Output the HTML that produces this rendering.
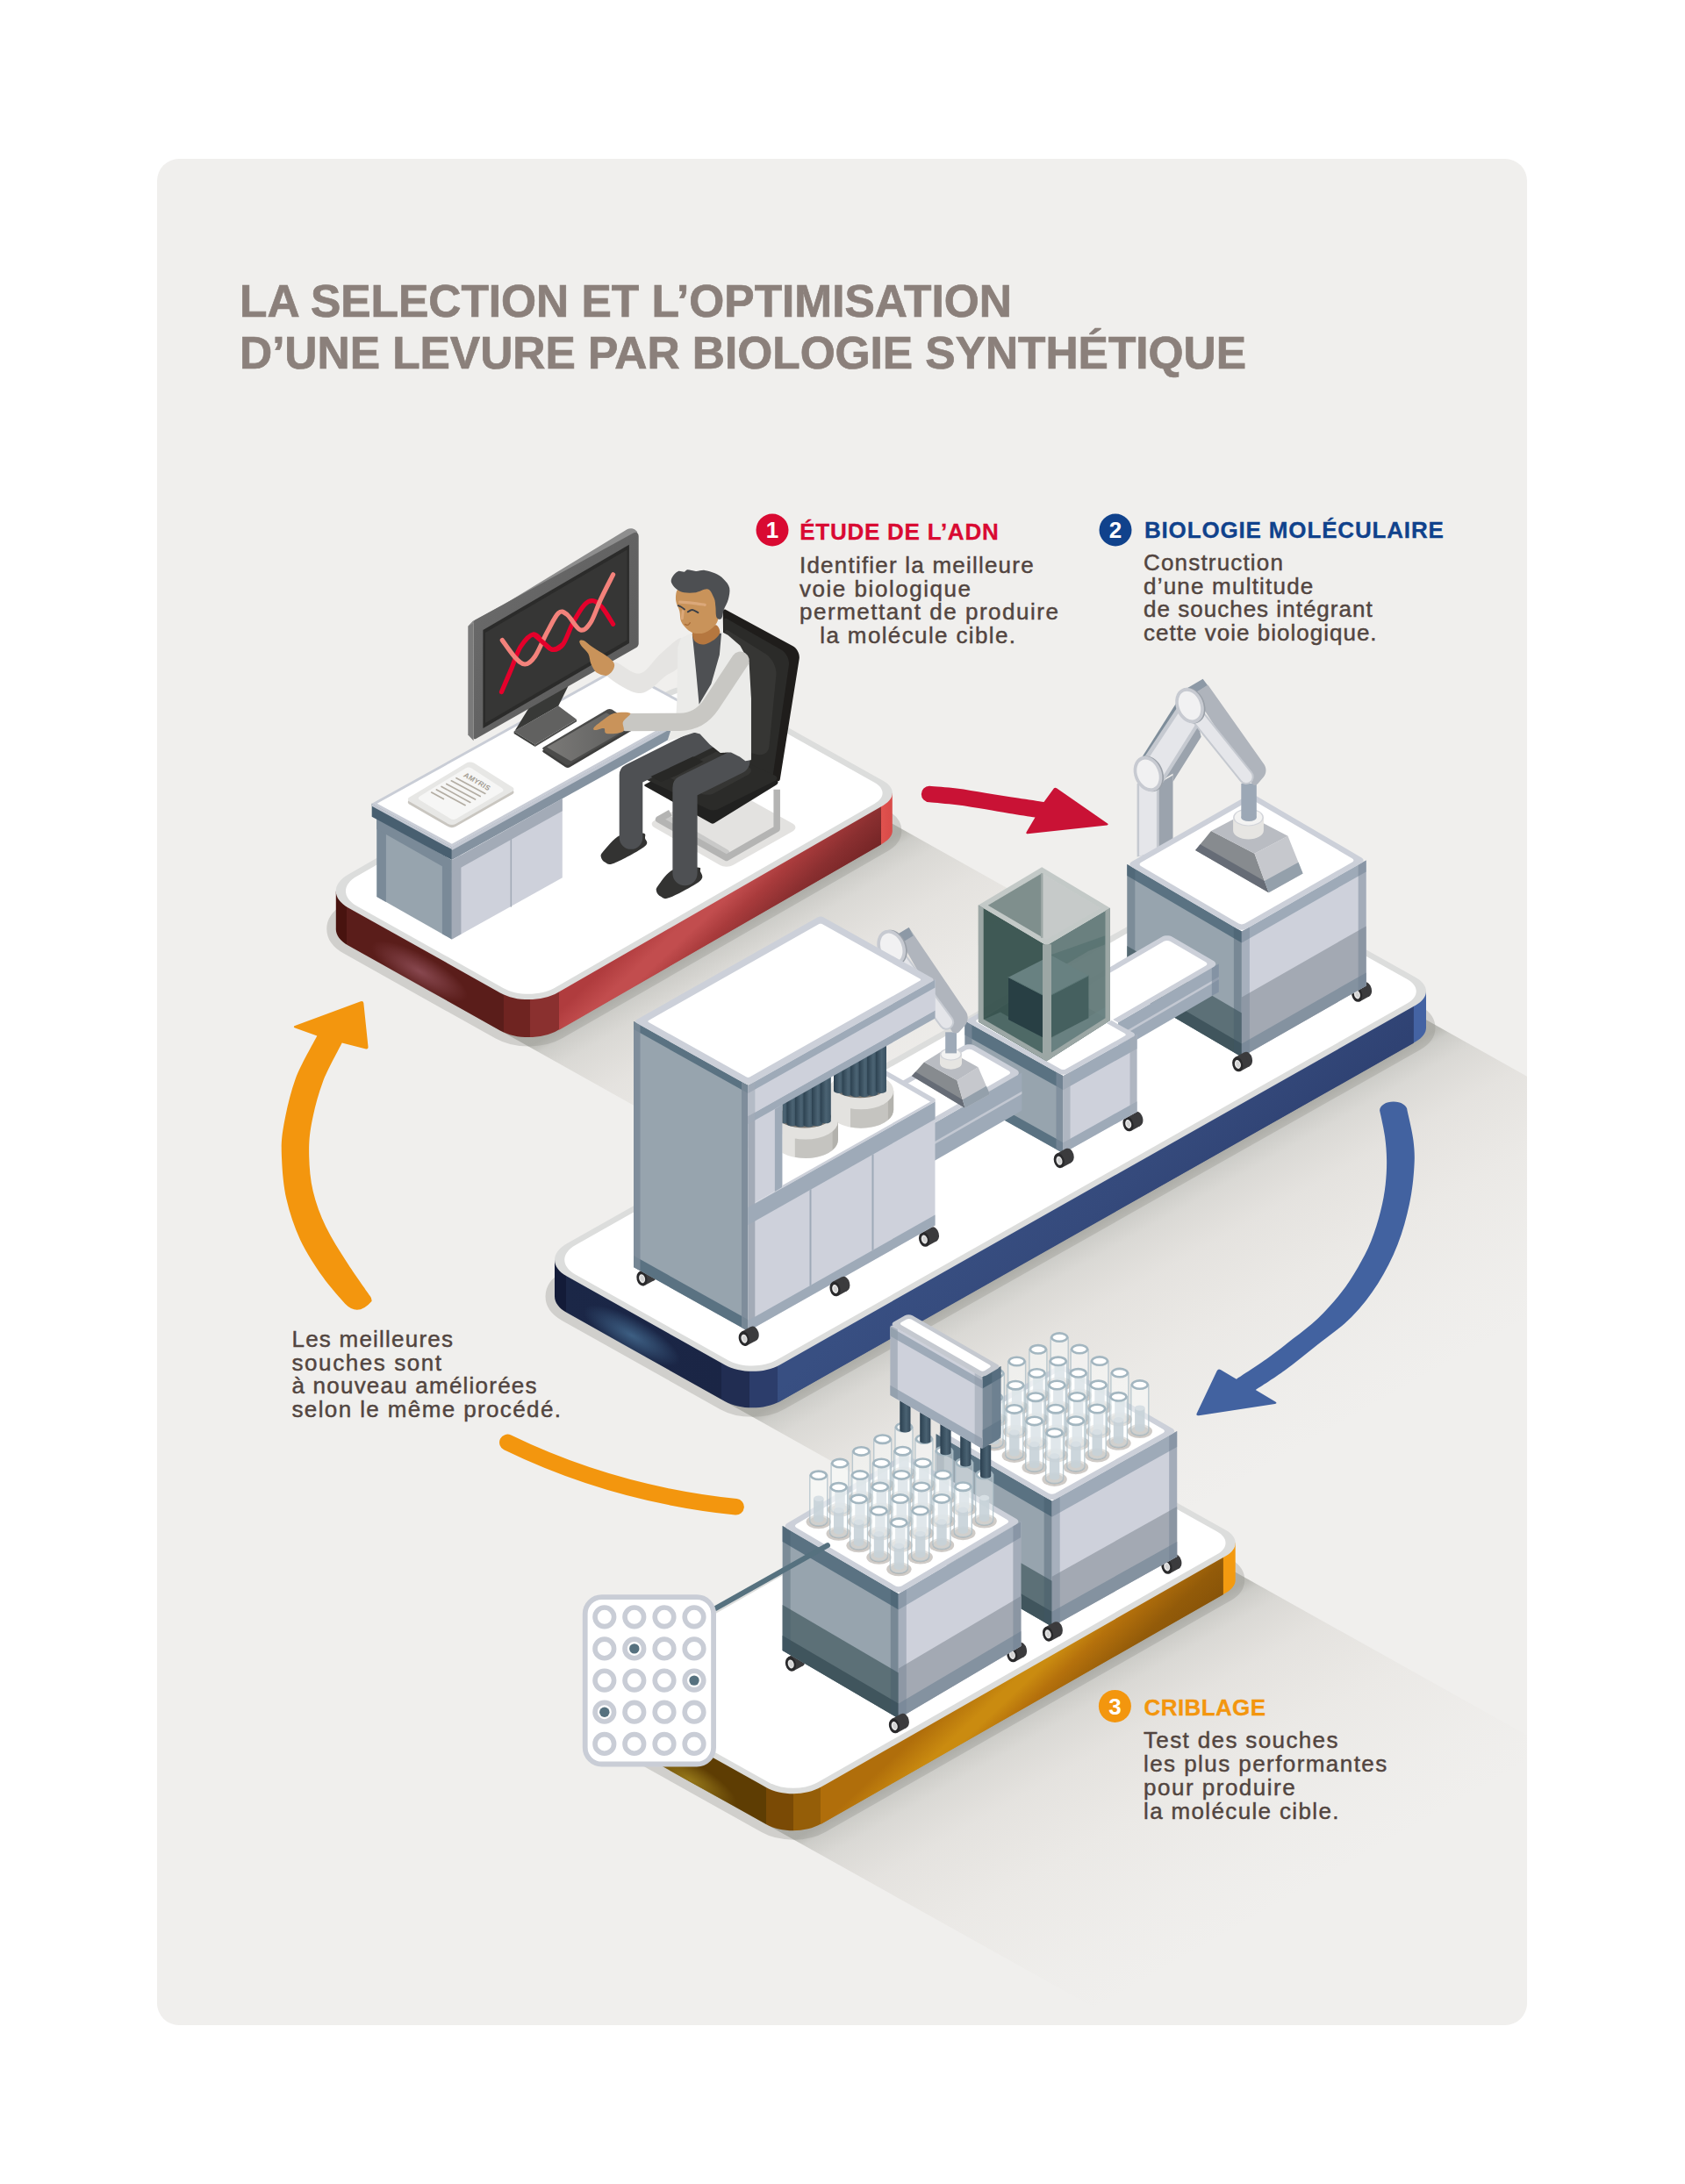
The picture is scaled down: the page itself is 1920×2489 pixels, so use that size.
<!DOCTYPE html><html lang="fr"><head><meta charset="utf-8"><title>La selection et l'optimisation d'une levure</title><style>html,body{margin:0;padding:0;background:#fff}svg{display:block}text{font-family:"Liberation Sans",sans-serif}</style></head><body><svg width="1920" height="2489" viewBox="0 0 1920 2489"><defs><linearGradient id="g_p1" gradientUnits="userSpaceOnUse" x1="382.8" y1="0" x2="1016.8" y2="0"><stop offset="0%" stop-color="#48130f"/><stop offset="1.9%" stop-color="#48130f"/><stop offset="1.9%" stop-color="#5a1d1a"/><stop offset="30.2%" stop-color="#5a1d1a"/><stop offset="30.2%" stop-color="#6f2421"/><stop offset="34.9%" stop-color="#6f2421"/><stop offset="34.9%" stop-color="#8a302f"/><stop offset="40.1%" stop-color="#8a302f"/><stop offset="40.1%" stop-color="#b23f3f"/><stop offset="61.1%" stop-color="#c24d4e"/><stop offset="81.6%" stop-color="#a83b3c"/><stop offset="97.8%" stop-color="#9a3435"/><stop offset="98%" stop-color="#e0524e"/><stop offset="100%" stop-color="#d84a48"/></linearGradient><radialGradient id="hl_p1" gradientUnits="userSpaceOnUse" cx="0" cy="0" r="1" gradientTransform="translate(478,1107) rotate(29.4) scale(62,19)"><stop offset="0" stop-color="#8a4a52" stop-opacity="0.95"/><stop offset="0.5" stop-color="#8a4a52" stop-opacity="0.5"/><stop offset="1" stop-color="#8a4a52" stop-opacity="0"/></radialGradient><linearGradient id="ov_p1" gradientUnits="userSpaceOnUse" x1="874.7" y1="928.2" x2="952.9" y2="1011.2"><stop offset="0.000" stop-color="#b03c3e"/><stop offset="0.219" stop-color="#c24d4e"/><stop offset="0.325" stop-color="#c24d4e"/><stop offset="0.509" stop-color="#a93b3c"/><stop offset="0.746" stop-color="#8a2f30"/><stop offset="1.000" stop-color="#742526"/></linearGradient><linearGradient id="g_p2" gradientUnits="userSpaceOnUse" x1="632" y1="0" x2="1625" y2="0"><stop offset="-0%" stop-color="#131b38"/><stop offset="1.3%" stop-color="#131b38"/><stop offset="1.3%" stop-color="#1b2747"/><stop offset="19.1%" stop-color="#1a2545"/><stop offset="19.1%" stop-color="#212d52"/><stop offset="22.4%" stop-color="#212d52"/><stop offset="22.4%" stop-color="#2c3d6b"/><stop offset="25.6%" stop-color="#2c3d6b"/><stop offset="25.6%" stop-color="#374e80"/><stop offset="67.3%" stop-color="#374d80"/><stop offset="98.5%" stop-color="#33477a"/><stop offset="98.6%" stop-color="#4463a3"/><stop offset="100%" stop-color="#4463a3"/></linearGradient><radialGradient id="hl_p2" gradientUnits="userSpaceOnUse" cx="0" cy="0" r="1" gradientTransform="translate(720,1522) rotate(29.4) scale(62,19)"><stop offset="0" stop-color="#3f6286" stop-opacity="0.95"/><stop offset="0.5" stop-color="#3f6286" stop-opacity="0.5"/><stop offset="1" stop-color="#3f6286" stop-opacity="0"/></radialGradient><linearGradient id="ov_p2" gradientUnits="userSpaceOnUse" x1="1166.2" y1="1237.6" x2="1344.6" y2="1426.9"><stop offset="0.000" stop-color="#384f82"/><stop offset="0.231" stop-color="#384f82"/><stop offset="0.615" stop-color="#354a7c"/><stop offset="1.000" stop-color="#2f4273"/></linearGradient><linearGradient id="g_p3" gradientUnits="userSpaceOnUse" x1="679.2" y1="0" x2="1407.7" y2="0"><stop offset="0.2%" stop-color="#6a4a06"/><stop offset="11.1%" stop-color="#5e3d03"/><stop offset="26.6%" stop-color="#5e3d03"/><stop offset="26.6%" stop-color="#7a4a05"/><stop offset="30.9%" stop-color="#7a4a05"/><stop offset="30.9%" stop-color="#955e08"/><stop offset="35.1%" stop-color="#955e08"/><stop offset="35.1%" stop-color="#b06e0b"/><stop offset="57.8%" stop-color="#c98a0f"/><stop offset="78.3%" stop-color="#b8730c"/><stop offset="98%" stop-color="#9a6009"/><stop offset="98.1%" stop-color="#f39a10"/><stop offset="100%" stop-color="#f39a10"/></linearGradient><radialGradient id="hl_p3" gradientUnits="userSpaceOnUse" cx="0" cy="0" r="1" gradientTransform="translate(786,2028) rotate(29.4) scale(60,19)"><stop offset="0" stop-color="#97791a" stop-opacity="0.95"/><stop offset="0.5" stop-color="#97791a" stop-opacity="0.5"/><stop offset="1" stop-color="#97791a" stop-opacity="0"/></radialGradient><linearGradient id="ov_p3" gradientUnits="userSpaceOnUse" x1="1478.3" y1="1568.8" x2="1564.1" y2="1659.8"><stop offset="0.000" stop-color="#b06e0b"/><stop offset="0.248" stop-color="#ca8b10"/><stop offset="0.328" stop-color="#ca8b10"/><stop offset="0.488" stop-color="#b5710c"/><stop offset="0.760" stop-color="#935b09"/><stop offset="1.000" stop-color="#875308"/></linearGradient><clipPath id="panelclip"><rect x="179" y="181" width="1561" height="2127" rx="25"/></clipPath><linearGradient id="sh0" gradientUnits="userSpaceOnUse" x1="603" y1="1193" x2="774.4" y2="1490.8"><stop offset="0" stop-color="#8f9088" stop-opacity="0.55"/><stop offset="0.032" stop-color="#8f9088" stop-opacity="0.36"/><stop offset="0.1" stop-color="#908e84" stop-opacity="0.23"/><stop offset="0.25" stop-color="#988f82" stop-opacity="0.13"/><stop offset="0.5" stop-color="#a39684" stop-opacity="0.065"/><stop offset="0.8" stop-color="#a39684" stop-opacity="0.02"/><stop offset="1" stop-color="#a39684" stop-opacity="0"/></linearGradient><linearGradient id="sh1" gradientUnits="userSpaceOnUse" x1="857.3" y1="1614.6" x2="1025.7" y2="1912.4"><stop offset="0" stop-color="#8f9088" stop-opacity="0.55"/><stop offset="0.032" stop-color="#8f9088" stop-opacity="0.36"/><stop offset="0.1" stop-color="#908e84" stop-opacity="0.23"/><stop offset="0.25" stop-color="#988f82" stop-opacity="0.13"/><stop offset="0.5" stop-color="#a39684" stop-opacity="0.065"/><stop offset="0.8" stop-color="#a39684" stop-opacity="0.02"/><stop offset="1" stop-color="#a39684" stop-opacity="0"/></linearGradient><linearGradient id="sh2" gradientUnits="userSpaceOnUse" x1="904.3" y1="2096.5" x2="1074.3" y2="2394.1"><stop offset="0" stop-color="#8f9088" stop-opacity="0.55"/><stop offset="0.032" stop-color="#8f9088" stop-opacity="0.36"/><stop offset="0.1" stop-color="#908e84" stop-opacity="0.23"/><stop offset="0.25" stop-color="#988f82" stop-opacity="0.13"/><stop offset="0.5" stop-color="#a39684" stop-opacity="0.065"/><stop offset="0.8" stop-color="#a39684" stop-opacity="0.02"/><stop offset="1" stop-color="#a39684" stop-opacity="0"/></linearGradient><linearGradient id="monb" x1="0" y1="0" x2="1" y2="1"><stop offset="0" stop-color="#6d6d6d"/><stop offset="1" stop-color="#585858"/></linearGradient><linearGradient id="kbg" x1="0" y1="0" x2="1" y2="0"><stop offset="0" stop-color="#7a7977"/><stop offset="1" stop-color="#5e5e5d"/></linearGradient><clipPath id="mopen2"><path d="M891.4,1353.1 L1065.5,1254.5 L1065.5,1158.5 L891.4,1257.1Z"/></clipPath><linearGradient id="tube" x1="0" y1="0" x2="1" y2="0"><stop offset="0" stop-color="#2c4150"/><stop offset="0.55" stop-color="#4b6373"/><stop offset="1" stop-color="#3a5161"/></linearGradient><clipPath id="mopen"><path d="M891.4,1383.1 L1065.5,1284.5 L1065.5,1158.5 L891.4,1257.1Z"/></clipPath><linearGradient id="pin" x1="0" y1="0" x2="1" y2="0"><stop offset="0" stop-color="#2b4050"/><stop offset="0.6" stop-color="#4a6272"/><stop offset="1" stop-color="#34495a"/></linearGradient></defs><rect width="1920" height="2489" fill="#fff"/>
<rect x="179" y="181" width="1561" height="2127" rx="25" fill="#f0efed"/>
<path d="M396.7,1077.4C378.2,1067 378.1,1050.5 396.5,1039.8L757.8,832C776.7,821.1 806.6,820.9 825.6,831.6L1006.6,933C1020.3,940.7 1020.3,952.8 1006.7,960.7L635.9,1174C617.5,1184.7 588.4,1184.8 569.9,1174.4Z" fill="#d0cfcc" stroke="#d0cfcc" stroke-width="21" stroke-linejoin="round"/>
<path d="M645.9,1496C627.4,1485.6 627.4,1469.2 645.9,1458.7L1365.4,1051.8C1382.9,1041.9 1410.5,1041.9 1428.1,1051.7L1613.3,1155.6C1628.9,1164.4 1628.9,1178.2 1613.3,1187.1L888.6,1596.9C871.1,1606.8 843.5,1606.8 825.9,1597Z" fill="#d0cfcc" stroke="#d0cfcc" stroke-width="21" stroke-linejoin="round"/>
<path d="M691.7,1977.6C675.1,1968.3 675,1953.6 691.5,1944.1L1151.1,1681.7C1167.6,1672.2 1193.7,1672.1 1210.3,1681.4L1396.7,1785.7C1411.4,1793.9 1411.4,1806.8 1396.8,1815.2L935.6,2078.6C918.1,2088.6 890.5,2088.8 872.9,2078.9Z" fill="#d0cfcc" stroke="#d0cfcc" stroke-width="21" stroke-linejoin="round"/>
<g clip-path="url(#panelclip)">
<path d="M911.3,879.6 L1379.9,1142.3 L951.9,1388.6 L483.3,1125.9Z" fill="url(#sh0)"/>
<path d="M1519,1102.7 L1990,1367 L1206.1,1810.3 L735,1546Z" fill="url(#sh1)"/>
<path d="M1301.8,1732.5 L1772,1995.5 L1253.4,2291.7 L783.1,2028.8Z" fill="url(#sh2)"/>
</g>
<g id="pf_p1"><path d="M396.7,1077.4C378.2,1067 378.1,1050.5 396.5,1039.8L757.8,832C776.7,821.1 806.6,820.9 825.6,831.6L1006.6,933C1020.3,940.7 1020.3,952.8 1006.7,960.7L635.9,1174C617.5,1184.7 588.4,1184.8 569.9,1174.4Z M382.8,1015.8 L1016.8,903.7 L1016.8,946.7 L382.8,1058.8Z" fill="url(#g_p1)"/><path d="M396.7,1030.4 L569.9,1127.4 L569.9,1174.7 L396.7,1077.7Z" fill="url(#hl_p1)"/><path d="M637.1,1124.4 L1004,913.2 L1004,962.5 L637.1,1173.7Z" fill="url(#ov_p1)"/><path d="M396.7,1034.4C378.2,1024 378.1,1007.5 396.5,996.8L757.8,789C776.7,778.1 806.6,777.9 825.6,788.6L1006.6,890C1020.3,897.7 1020.3,909.8 1006.7,917.7L635.9,1131C617.5,1141.7 588.4,1141.8 569.9,1131.4Z" fill="#dcdddc"/><path d="M406.5,1032.5C389.9,1023.1 389.8,1008.3 406.4,998.8L761.2,794.5C778.2,784.7 805.1,784.5 822.2,794.1L996.8,891.9C1008.5,898.5 1008.6,909 996.9,915.7L632.6,1125.5C616,1135 589.9,1135.2 573.3,1125.9Z" fill="#fff"/></g>
<path d="M745.9,943.2C741.5,940.7 741.7,937 746.2,934.8L818.1,899.5C822.6,897.3 829.6,897.5 834,899.9L903.1,938.5C907.5,941 907.5,944.9 903.1,947.4L835.6,985.8C831.3,988.3 824.4,988.3 820,985.8Z" fill="#e3e2e0"/>
<path d="M760.5,932.1 L827.8,971.2" fill="none" stroke="#c9c9c8" stroke-width="6.5" stroke-linecap="round" stroke-linejoin="round"/>
<path d="M885.2,899.7 L885.2,944.6 L827.8,977.5 L750.6,933.8 L763.9,926.3" fill="none" stroke="#b4b4b3" stroke-width="7.5" stroke-linejoin="round" stroke-linecap="butt"/>
<path d="M823.7,697.1C823.7,694.9 825.2,694 827.2,695L903.4,736.2C908.4,738.9 911.6,745.3 910.7,750.9L888.8,888.3C888.5,889.9 887.1,890.7 885.6,890L828.9,863.9C827.4,863.2 826.1,861.3 826.1,859.6Z" fill="#1f1d1b"/>
<path d="M824.5,707.1C824.5,704.9 826,704 828,705.1L890.2,740.4C896,743.7 899.9,751.5 898.9,758.2L880.9,882.3C880.5,885.1 878.2,886.3 875.6,885.2L828.9,863.9C827.4,863.2 826.2,861.3 826.1,859.6Z" fill="#2b2b29"/>
<path d="M826.2,720.4C826.2,718.2 827.7,717.3 829.6,718.5L872.4,745.3C880,750.1 885.3,760.8 884.4,769.7L876.4,850.7C875.7,857.4 870.1,861.4 863.5,859.9L829.1,851.7C827.5,851.3 826.2,849.7 826.2,848Z" fill="#363634"/>
<path d="M734.9,896C733.9,895.5 733.9,894.6 734.9,894.1L807.8,855.8C808.8,855.2 810.4,855.2 811.4,855.7L883.8,888.2C887.3,889.8 887.5,892.7 884.2,894.7L813.7,938.2C812.8,938.8 811.3,938.8 810.3,938.3Z" fill="#212120"/>
<path d="M737.4,888.9C736.4,888.4 736.4,887.7 737.4,887.2L807.8,850.8C808.8,850.3 810.4,850.2 811.4,850.7L882.4,883.4C886.4,885.3 886.5,888.3 882.5,890.3L818.2,922.3C815.2,923.8 810.5,923.8 807.5,922.4Z" fill="#2b2b29"/>
<path d="M761.5,885.6C760.5,885.1 760.5,884.4 761.5,883.9L814.4,857.4C815.4,856.9 817,856.9 818,857.4L852.1,873.8C857.1,876.2 857.2,880.2 852.3,882.9L813.3,904.2C809.3,906.3 803.1,906.4 799.1,904.4Z" fill="#353533"/>
<path d="M429.4,1022 L514.9,1070.5 L514.9,980.5 L429.4,932Z" fill="#97a4ae" />
<path d="M429.4,1022 L439.9,1028 L439.9,938 L429.4,932Z" fill="#7a8a98" />
<path d="M503.9,1064.3 L514.9,1070.5 L514.9,980.5 L503.9,974.3Z" fill="#7a8a98" />
<path d="M429.4,932 L514.9,980.5 L514.9,993.5 L429.4,945Z" fill="#7a8a98" />
<path d="M514.9,1070.5 L640.8,1000.3 L640.8,910.3 L514.9,980.5Z" fill="#ced1db" />
<path d="M514.9,1070.5 L525.4,1064.6 L525.4,974.6 L514.9,980.5Z" fill="#a3abb7" />
<path d="M514.9,980.5 L640.8,910.3 L640.8,924.3 L514.9,994.5Z" fill="#a3abb7" />
<path d="M582.3,1032.9 L582.3,952.9" fill="none" stroke="#a3abb7" stroke-width="1.6" stroke-linecap="round" stroke-linejoin="round"/>
<path d="M423.7,915.8 L514.9,965.1 L514.9,980.1 L423.7,930.8Z" fill="#485f70" />
<path d="M514.9,965.1 L795.8,809.2 L795.8,824.2 L514.9,980.1Z" fill="#8492a0" />
<path d="M514.9,965.1 L795.8,809.2 L795.8,813.2 L514.9,969.1Z" fill="#c3c8d2" />
<path d="M423.7,915.8 L514.9,965.1 L514.9,968.1 L423.7,918.8Z" fill="#c3c8d2" />
<path d="M423.7,915.8 L704.6,759.9 L795.8,809.2 L514.9,965.1Z" fill="#c9cdd6" />
<path d="M429.7,915.8 L704.6,763.3 L789.8,809.2 L514.9,961.7Z" fill="#fff" />
<path d="M466.6,916.7C464.2,915.3 464.2,913.1 466.6,911.6L531.5,872.8C533.9,871.3 537.7,871.4 540,872.8L583.8,900.2C586.1,901.6 586.1,903.9 583.7,905.3L519.2,942.1C516.8,943.5 513,943.5 510.6,942.1Z" fill="#c9c6c0"/>
<path d="M466.6,913.5C464.2,912.1 464.2,909.9 466.6,908.4L531.5,869.6C533.9,868.1 537.7,868.2 540,869.6L583.8,897C586.1,898.4 586.1,900.7 583.7,902.1L519.2,938.9C516.8,940.3 513,940.3 510.6,938.9Z" fill="#e7e7e5"/>
<path d="M478.3,911.7C476.4,910.6 476.4,908.7 478.3,907.5L530.6,875.4C532.5,874.2 535.5,874.3 537.3,875.5L572.1,898.3C574,899.6 573.9,901.4 572,902.5L520.1,933C518.2,934.2 515.1,934.2 513.2,933Z" fill="#f6f6f5"/>
<path d="M520,886.7 L552.9,904.4" fill="none" stroke="#b3ada3" stroke-width="1.7" stroke-linecap="round" stroke-linejoin="round"/>
<path d="M514.3,889.8 L547.2,907.6" fill="none" stroke="#b3ada3" stroke-width="1.7" stroke-linecap="round" stroke-linejoin="round"/>
<path d="M508.8,893.4 L541.5,911" fill="none" stroke="#b3ada3" stroke-width="1.7" stroke-linecap="round" stroke-linejoin="round"/>
<path d="M503.1,896.4 L535.8,914.4" fill="none" stroke="#b3ada3" stroke-width="1.7" stroke-linecap="round" stroke-linejoin="round"/>
<path d="M497.4,900 L530.1,917.7" fill="none" stroke="#b3ada3" stroke-width="1.7" stroke-linecap="round" stroke-linejoin="round"/>
<path d="M491.7,903.1 L505.4,910.6" fill="none" stroke="#b3ada3" stroke-width="1.7" stroke-linecap="round" stroke-linejoin="round"/>
<text transform="translate(527.6,884.7) matrix(0.87,0.5,-0.6,0.8,0,0)" font-size="8.2" font-weight="bold" fill="#a39d93" letter-spacing="0.2">AMYRIS</text>
<path d="M585.6,833.4 L609.7,848.4 L657.1,820.1 L636.3,804.4Z" fill="#616160" />
<path d="M585.6,833.4 L609.7,848.4 L609.7,850.9 L585.6,835.9Z" fill="#3f403e" />
<path d="M609.7,848.4 L657.1,820.1 L657.1,822.3 L609.7,850.9Z" fill="#4d4d4c" />
<path d="M603.1,806 L647.9,781.1 L636.3,804.4 L586.5,832.9Z" fill="#383937" />
<path d="M533.3,713.8 L539.6,707.1 L539.6,844.2 L533.3,837.6Z" fill="#7a7a7a" />
<path d="M534.7,712.4C533.9,713.2 534.1,713.3 535,712.8L714.6,603.3C717.4,601.6 721.7,601.9 724.2,604.2L725.4,605.2C726.7,606.3 726.5,607.8 725.1,608.6L540.5,707C540,707.3 539.3,707.8 538.9,708.2Z" fill="#8e8e8e"/>
<path d="M539.6,709.5C539.6,708.4 540.4,707.1 541.4,706.5L721.6,607.6C725,605.7 727.7,607.3 727.7,611.2L727.7,733.5C727.7,735.2 726.6,737.2 725.1,738L542.2,842C540.7,842.8 539.6,842.2 539.6,840.5Z" fill="url(#monb)"/>
<path d="M550.4,718 L716.9,620.7 L716.9,732.9 L550.4,830.1Z" fill="#2b2b2a" />
<path d="M553,721 L714.5,626.5 L714.5,729.5 L553,824Z" fill="#363635" />
<path d="M571.5,788.6 C573.5,784 579.5,769.7 583.1,761.2 C586.7,752.6 589,743.4 593.1,737.1 C597.3,730.7 603.6,723.6 608.1,722.9 C612.5,722.2 616.1,730 619.7,732.9 C623.3,735.8 626.1,740.1 629.7,740.4 C633.3,740.7 637.4,739.7 641.3,734.6 C645.2,729.4 648.8,717.3 652.9,709.6 C657.1,702 662.4,693 666.2,688.9 C670.1,684.7 672.9,684.2 676.2,684.7 C679.5,685.3 682.4,687.8 686.2,692.2 C689.9,696.6 696.6,708.1 698.6,711.3" fill="none" stroke="#e4002b" stroke-width="5.2" stroke-linecap="round" stroke-linejoin="round"/>
<path d="M572.3,729.6 C574.7,732.8 582.2,744.1 586.5,748.7 C590.8,753.3 594.2,757.1 598.1,757 C602,756.9 605.6,753.8 609.7,747.9 C613.9,741.9 618.6,729.4 623,721.3 C627.5,713.1 632.4,702.3 636.3,698.8 C640.2,695.4 642.1,697.3 646.3,700.5 C650.4,703.7 656.8,716.4 661.2,717.9 C665.7,719.5 669,715.5 672.9,709.6 C676.8,703.8 680.2,692.2 684.5,683.1 C688.8,673.9 696.3,659.5 698.6,654.8" fill="none" stroke="#f3827b" stroke-width="5.2" stroke-linecap="round" stroke-linejoin="round"/>
<path d="M608.1,722.9 C610,724.6 616.1,730 619.7,732.9 C623.3,735.8 626.1,740.1 629.7,740.4 C633.3,740.7 639.4,735.5 641.3,734.6" fill="none" stroke="#e4002b" stroke-width="5.2" stroke-linecap="butt"/>
<path d="M619.2,857.6C617.8,856.7 617.8,855.3 619.3,854.5L692.1,811.5C693.6,810.7 695.8,810.7 697.2,811.6L722.3,828.2C723.7,829.1 723.7,830.5 722.2,831.3L649.4,874.3C647.9,875.1 645.7,875.1 644.3,874.2Z" fill="#3e3e3d"/>
<path d="M619.2,854.6C617.8,853.7 617.8,852.3 619.3,851.5L692.1,808.5C693.6,807.7 695.8,807.7 697.2,808.6L722.3,825.2C723.7,826.1 723.7,827.5 722.2,828.3L649.4,871.3C647.9,872.1 645.7,872.1 644.3,871.2Z" fill="#4b4b4a"/>
<path d="M623.2,851.4 L690.9,812.3 L718.3,828.4 L650.6,867.5Z" fill="url(#kbg)" />
<path d="M706.5,952C699,955.5 691,966.2 687.4,970.3C683.8,974.5 684.6,974.9 684.9,977C685.3,979 687.1,981.6 689.6,982.8C692.1,983.9 692.4,986.8 699.9,983.8C707.4,980.8 728.6,969.6 734.4,964.8C740.3,960.1 735.5,957.9 735.1,955.4C734.7,952.8 737,950.1 732.3,949.6C727.5,949 714,948.6 706.5,952Z" fill="#333332" />
<path d="M809.6,838.2 L719,883.4 L719,954.5" fill="none" stroke="#4e5053" stroke-width="26.6" stroke-linejoin="round" stroke-linecap="round"/>
<path d="M767.2,991.1C759.7,994.5 753.2,1004.9 750.1,1009C746.9,1013.2 747.6,1013.9 748.1,1016C748.6,1018.2 750.5,1020.7 753.1,1021.8C755.6,1023 755.9,1025.8 763.4,1022.8C770.8,1019.9 791.8,1009.1 797.6,1004.1C803.3,999 798.4,995.3 797.9,992.8C797.5,990.2 800.1,988.9 794.9,988.6C789.8,988.3 774.7,987.7 767.2,991.1Z" fill="#333332" />
<path d="M840.3,867.8 L780.5,897.5 L780.5,995.2" fill="none" stroke="#4e5053" stroke-width="28.2" stroke-linejoin="round" stroke-linecap="round"/>
<path d="M789.6,862.3 L801.6,868.1 L770.5,883.9 L753.1,891.1 L741.4,885.1Z" fill="#282826" />
<path d="M777.1,727.2C773.5,725 761.1,737.9 753.1,744.7C745,751.4 737.4,765.9 729,767.6C720.5,769.3 707.9,756 702.4,755C696.8,753.9 697.5,758.8 695.7,761.3C693.9,763.8 688.4,765.8 691.6,769.9C694.8,774 708.5,782.4 714.8,785.7C721.2,789 725.2,790 729.8,789.9C734.4,789.7 737.7,787.6 742.3,784.5C746.8,781.4 751.8,775.7 757.2,771.2C762.6,766.8 771.3,765.3 774.7,757.9C778,750.6 780.7,729.4 777.1,727.2Z" fill="#e5e4e2" />
<path d="M660.3,730.7C660.7,729.6 662.8,728.9 665.3,730C667.8,731.2 670.6,734.4 675.3,737.5C679.9,740.7 689.1,745.8 693.2,749C697.3,752.2 699.1,754 699.9,756.6C700.7,759.2 699.4,762.4 697.9,764.6C696.4,766.8 693.7,769.6 690.7,769.9C687.8,770.2 682.8,768.7 679.9,766.6C677.1,764.5 675.2,760.7 673.6,757.1C672,753.5 672.1,748.4 670.3,745C668.5,741.6 664.7,739.1 663,736.7C661.3,734.3 659.9,731.8 660.3,730.7Z" fill="#c9935a" />
<path d="M776.3,728 L791.3,720.6 L822,720.6 L829.5,724.7 L842.8,736.3 L852.8,754.6 L855.2,796.2 L855.2,865.6 L849.4,866.5 L842.8,861.5 L832.8,856.5 L821.2,857.3 L809.6,848.2 L797.9,835.7 L791.3,834.1 L761.4,844 L771.3,812.8 L772.2,796.2 L773,738Z" fill="#ebebe9" stroke="#ebebe9" stroke-width="1.5" stroke-linejoin="round"/>
<path d="M788.8,723.1 L822,721.7 L819.9,746.3 L810.4,779.6 L796.6,802.8 L792.9,762.9 L790.4,738Z" fill="#4e5053" />
<path d="M790.4,719.7C792.7,718.8 798.8,721 802.9,719.7C807.1,718.5 812.5,712.1 815.4,712.3C818.3,712.4 820.5,717.9 820.4,720.6C820.2,723.2 817.6,726.1 814.5,728.4C811.5,730.7 805.7,733.8 802.1,734.4C798.5,734.9 795.1,733.2 792.9,731.7C790.8,730.2 789.7,727.5 789.3,725.5C788.9,723.6 788.2,720.7 790.4,719.7Z" fill="#b5773f" />
<path d="M771.7,672.4C770.1,674.3 769.7,680.8 770.2,684.8C770.6,688.9 773.4,692.6 774.3,696.5C775.3,700.3 774.6,704.7 776,708.1C777.4,711.5 780.1,714.5 782.6,716.7C785.2,719 787.8,721 791.3,721.7C794.7,722.4 799.4,722.3 803.2,720.9C807.1,719.5 812,716 814.5,713.1C817.1,710.1 818.4,707 818.7,703.1C819,699.2 817,693.7 816.2,689.8C815.4,685.9 815.4,683 813.7,679.9C812,676.7 809.7,671.8 806.2,670.7C802.8,669.7 797.4,673.1 792.9,673.5C788.5,674 783.2,673.7 779.6,673.5C776.1,673.3 773.2,670.5 771.7,672.4Z" fill="#c9935a" />
<path d="M774.7,686.2 C777.1,686.4 784.8,686.8 789.6,687.3 C794.4,687.9 801,689 803.2,689.3" fill="none" stroke="#dba87a" stroke-width="3.2" stroke-linecap="round" stroke-linejoin="round"/>
<path d="M778.3,696.5 C778.1,697.9 777.5,703.4 777.3,704.8" fill="none" stroke="#dba87a" stroke-width="3" stroke-linecap="round" stroke-linejoin="round"/>
<path d="M772.7,690.2 C773.3,690.4 775.1,691.1 776.3,691.8 C777.5,692.5 779.4,694 780,694.5" fill="none" stroke="#3a3f47" stroke-width="1.8" stroke-linecap="round" stroke-linejoin="round"/>
<path d="M783.8,697.3 C784.6,696.9 786.8,695 788.8,695.1 C790.7,695.3 794.3,697.6 795.4,698.1" fill="none" stroke="#3a3f47" stroke-width="2" stroke-linecap="round" stroke-linejoin="round"/>
<path d="M780.5,711.4 C781,711.6 782.8,712.5 783.8,712.3 C784.8,712 785.9,710.2 786.3,709.8" fill="none" stroke="#a96d38" stroke-width="1.4" stroke-linecap="round" stroke-linejoin="round"/>
<path d="M764.7,661.6C764.9,659.6 766.3,657 767.7,655.3C769.1,653.5 771,651.5 773,650.9C775,650.4 777.9,652 779.6,651.8C781.4,651.5 781.1,649.4 783.3,649.3C785.5,649.1 789.7,650.8 792.9,650.9C796.2,651 799.3,649.6 802.9,649.9C806.5,650.3 810.9,651.6 814.5,653.3C818.1,654.9 821.7,657.1 824.5,659.9C827.3,662.7 830.3,666 831.2,669.9C832,673.8 830.9,679 829.8,683.2C828.8,687.3 826.1,691.1 824.8,694.8C823.5,698.5 823.4,703.7 822,705.1C820.6,706.5 817.6,705.7 816.5,703.4C815.4,701.2 815.8,695.4 815.4,691.8C814.9,688.2 815.2,685.2 813.7,681.8C812.2,678.5 810,672.6 806.6,671.5C803.1,670.4 797.4,674.6 792.9,675.2C788.4,675.8 783.2,675.8 779.6,675.2C776.1,674.6 773.8,673.3 771.7,671.9C769.5,670.5 767.8,668.6 766.7,666.9C765.5,665.2 764.5,663.5 764.7,661.6Z" fill="#4d4f52" />
<path d="M843.6,752.6 L810.4,802.8 Q797.1,822.8 774.7,822.8 L712.8,823.1" fill="none" stroke="#c8c7c3" stroke-width="20.2" stroke-linecap="round" stroke-linejoin="round"/>
<path d="M718.2,812.8C716.5,811.1 705.1,811.4 699.9,812.8C694.6,814.2 690.5,818.3 686.6,821.1C682.7,823.9 677.9,827.6 676.6,829.4C675.3,831.2 676.7,831.9 678.6,832.1C680.5,832.2 686.1,829.4 688.2,830.1C690.4,830.7 687.6,835.4 691.2,836C694.8,836.7 706.7,835.9 709.9,833.7C713,831.5 708.5,826.2 709.9,822.8C711.2,819.3 719.8,814.4 718.2,812.8Z" fill="#c9935a" />
<g id="pf_p2"><path d="M645.9,1496C627.4,1485.6 627.4,1469.2 645.9,1458.7L1365.4,1051.8C1382.9,1041.9 1410.5,1041.9 1428.1,1051.7L1613.3,1155.6C1628.9,1164.4 1628.9,1178.2 1613.3,1187.1L888.6,1596.9C871.1,1606.8 843.5,1606.8 825.9,1597Z M632,1435.9 L1625,1129.8 L1625,1171.3 L632,1477.4Z" fill="url(#g_p2)"/><path d="M645.9,1450.5 L825.9,1551.5 L825.9,1597.3 L645.9,1496.3Z" fill="url(#hl_p2)"/><path d="M886.3,1550.7 L1610.8,1141 L1610.8,1188.8 L886.3,1598.5Z" fill="url(#ov_p2)"/><path d="M645.9,1454.5C627.4,1444.1 627.4,1427.7 645.9,1417.2L1365.4,1010.3C1382.9,1000.4 1410.5,1000.4 1428.1,1010.2L1613.3,1114.1C1628.9,1122.9 1628.9,1136.7 1613.3,1145.6L888.6,1555.4C871.1,1565.3 843.5,1565.3 825.9,1555.5Z" fill="#dcdddc"/><path d="M655.7,1452.6C639.1,1443.2 639.1,1428.5 655.7,1419.1L1368.8,1015.9C1384.4,1007 1409,1007 1424.7,1015.8L1603.5,1116.1C1617.2,1123.8 1617.2,1135.9 1603.5,1143.6L885.2,1549.8C869.6,1558.7 845,1558.7 829.3,1549.9Z" fill="#fff"/></g>
<path d="M1320.3,892.9 L1336.5,883.4 L1336.5,961.3 L1320.3,970.8Z" fill="#9ba3ad" />
<path d="M1295.6,892.9 L1320.3,892.9 L1320.3,970.8 L1295.6,976.5Z" fill="#c5c9d0" />
<path d="M1298.1,892.9 L1317.9,892.9 L1317.9,970.8 L1298.1,975.5Z" fill="#e5e6ea" />
<ellipse cx="1557" cy="1127.7" rx="5.9" ry="8.5" transform="rotate(-15 1557 1127.7)" fill="#3b3b3d"/><path d="M1543.1,1125.6 L1553.9,1119.8 L1560.1,1135.6 L1549.3,1141.4Z" fill="#3b3b3d"/><ellipse cx="1546.2" cy="1133.5" rx="5.9" ry="8.5" transform="rotate(-15 1546.2 1133.5)" fill="#29292b"/><ellipse cx="1546.4" cy="1133.5" rx="3.4" ry="5.1" transform="rotate(-15 1546.4 1133.5)" fill="#e6e6e6"/><ellipse cx="1546.7" cy="1133.5" rx="2" ry="3.4" transform="rotate(-15 1546.7 1133.5)" fill="#d3d3d3"/>
<path d="M1414.9,1204.5 L1284.3,1128.1 L1284.3,985.1 L1414.9,1061.5Z" fill="#97a4ae" />
<path d="M1414.9,1061.5 L1284.3,985.1 L1284.3,998.1 L1414.9,1074.5Z" fill="#5a7282" />
<path d="M1414.9,1204.5 L1556.7,1123.4 L1556.7,980.4 L1414.9,1061.5Z" fill="#ced1db" />
<path d="M1414.9,1061.5 L1556.7,980.4 L1556.7,993.4 L1414.9,1074.5Z" fill="#9eaab8" />
<path d="M1414.9,1204.5 L1284.3,1128.1 L1284.3,1078.1 L1414.9,1154.5Z" fill="#5c7077" />
<path d="M1414.9,1204.5 L1284.3,1128.1 L1284.3,1113.1 L1414.9,1189.5Z" fill="#40555d" />
<path d="M1414.9,1204.5 L1556.7,1123.4 L1556.7,1055.4 L1414.9,1136.5Z" fill="#a3a9b3" />
<path d="M1414.9,1204.5 L1556.7,1123.4 L1556.7,1108.4 L1414.9,1189.5Z" fill="#8492a0" />
<path d="M1414.9,1204.5 L1405.9,1199.2 L1405.9,1056.2 L1414.9,1061.5Z" fill="#3f5666" fill-opacity="0.35"/>
<path d="M1293.3,1133.4 L1284.3,1128.1 L1284.3,985.1 L1293.3,990.4Z" fill="#3f5666" fill-opacity="0.3"/>
<path d="M1414.9,1204.5 L1423.9,1199.4 L1423.9,1056.4 L1414.9,1061.5Z" fill="#6f7f90" fill-opacity="0.4"/>
<path d="M1547.7,1128.5 L1556.7,1123.4 L1556.7,980.4 L1547.7,985.5Z" fill="#6f7f90" fill-opacity="0.45"/>
<path d="M1289.5,988.1C1286.6,986.4 1286.6,983.8 1289.5,982.1L1420.9,907C1423.8,905.3 1428.4,905.3 1431.3,907L1551.5,977.4C1554.4,979.1 1554.4,981.7 1551.5,983.4L1420.1,1058.5C1417.2,1060.2 1412.6,1060.2 1409.7,1058.5Z" fill="#ccd0d9"/><path d="M1300,987.1C1298.1,986 1298.1,984.2 1300,983.1L1422.6,912.9C1424.6,911.8 1427.6,911.8 1429.5,912.9L1541,978.4C1542.9,979.5 1542.9,981.3 1541,982.4L1418.4,1052.6C1416.4,1053.7 1413.4,1053.7 1411.5,1052.6Z" fill="#fff"/>
<ellipse cx="1421" cy="1207.2" rx="5.9" ry="8.5" transform="rotate(-15 1421 1207.2)" fill="#3b3b3d"/><path d="M1407.1,1205.1 L1417.9,1199.3 L1424.1,1215.1 L1413.3,1220.9Z" fill="#3b3b3d"/><ellipse cx="1410.2" cy="1213" rx="5.9" ry="8.5" transform="rotate(-15 1410.2 1213)" fill="#29292b"/><ellipse cx="1410.4" cy="1213" rx="3.4" ry="5.1" transform="rotate(-15 1410.4 1213)" fill="#e6e6e6"/><ellipse cx="1410.7" cy="1213" rx="2" ry="3.4" transform="rotate(-15 1410.7 1213)" fill="#d3d3d3"/>
<path d="M1362.1,968.9 L1445.7,1017.3 L1429.5,972.7 L1380.1,947Z" fill="#878b8f" />
<path d="M1362.1,968.9 L1445.7,1017.3 L1440.8,1003.9 L1367.5,962.3Z" fill="#666c76" />
<path d="M1445.7,1017.3 L1484.6,995.5 L1467.5,952.7 L1429.5,972.7Z" fill="#c6c8cd" />
<path d="M1445.7,1017.3 L1484.6,995.5 L1479.5,982.7 L1440.8,1003.9Z" fill="#94a0ab" />
<path d="M1380.1,947 L1429.5,972.7 L1467.5,952.7 L1418.1,927.1Z" fill="#b9bcc2" />
<path d="M1405.1,931.5 v15 a17.4,10 0 0 0 34.8,0 v-15 z" fill="#e6e5e2"/><ellipse cx="1422.5" cy="931.5" rx="17.4" ry="10" fill="#d3d5da"/><ellipse cx="1422.5" cy="931.5" rx="15.8" ry="8.9" fill="#f3f3f2"/>
<path d="M1414.3,892.9 L1431.8,892.9 L1431.8,931.9 L1414.3,931.9Z" fill="#9ca8b6" />
<ellipse cx="1423" cy="931.9" rx="8.75" ry="4" fill="#9ca8b6"/>
<path d="M1294.3,873.9 L1340.6,800.8 L1353.6,796.1 L1308,866.3Z" fill="#7e8d9a" />
<path d="M1321.3,891 L1364.9,824.6 L1368.7,839.8 L1336.5,891 L1336.5,881.5Z" fill="#9ba3ad" />
<path d="M1298.5,871.1 L1345,800.8 L1368.7,822.7 L1322.2,896.7Z" fill="#c5c9d0" />
<path d="M1302.3,873.9 L1346.9,806.5 L1364,822.7 L1319.8,892.9Z" fill="#e5e6ea" />
<path d="M1353.6,783.7 L1370.6,773.7 L1376.3,781.3 L1360.2,791.3Z" fill="#8d99a6" />
<path d="M1360.7,791.2C1360.4,790.8 1360.6,790.2 1361.1,789.9L1375.5,781C1376,780.7 1376.6,780.9 1376.9,781.3L1440.5,871.3C1443.4,875.5 1443.1,881.7 1439.8,885.5L1433.4,893.1C1431.2,895.7 1428.1,895.5 1426.3,892.6Z" fill="#afb4bc"/>
<path d="M1355.8,805.6 L1420,885.3" stroke="#c5c9d0" stroke-width="17.5" stroke-linecap="round" fill="none"/>
<path d="M1355.8,805.6 L1420,885.3" stroke="#e5e6ea" stroke-width="13.5" stroke-linecap="round" fill="none"/>
<ellipse cx="1357.1" cy="804.7" rx="15.5" ry="21" transform="rotate(-22 1355.5 804.1)" fill="#9aa0a8"/><ellipse cx="1355.5" cy="804.1" rx="15.5" ry="21" transform="rotate(-22 1355.5 804.1)" fill="#c7cad1"/><ellipse cx="1355.5" cy="804.1" rx="11.9" ry="17" transform="rotate(-22 1355.5 804.1)" fill="#f1f1f2"/>
<ellipse cx="1309.6" cy="882.5" rx="15.5" ry="21" transform="rotate(-22 1308 881.9)" fill="#9aa0a8"/><ellipse cx="1308" cy="881.9" rx="15.5" ry="21" transform="rotate(-22 1308 881.9)" fill="#c7cad1"/><ellipse cx="1308" cy="881.9" rx="11.9" ry="17" transform="rotate(-22 1308 881.9)" fill="#f1f1f2"/>
<path d="M1274,1197.3 L1388.8,1130.4 L1388.8,1098.4 L1274,1165.3Z" fill="#9eaab8" />
<path d="M1274,1183.2 L1388.8,1116.3 L1388.8,1113.3 L1274,1180.2Z" fill="#c3c8d2" />
<path d="M1380.8,1135 L1388.8,1130.4 L1388.8,1098.4 L1380.8,1103Z" fill="#6f8094" fill-opacity="0.55"/>
<ellipse cx="1296.3" cy="1275.2" rx="5.9" ry="8.5" transform="rotate(-15 1296.3 1275.2)" fill="#3b3b3d"/><path d="M1282.4,1273.1 L1293.2,1267.3 L1299.4,1283.1 L1288.6,1288.9Z" fill="#3b3b3d"/><ellipse cx="1285.5" cy="1281" rx="5.9" ry="8.5" transform="rotate(-15 1285.5 1281)" fill="#29292b"/><ellipse cx="1285.7" cy="1281" rx="3.4" ry="5.1" transform="rotate(-15 1285.7 1281)" fill="#e6e6e6"/><ellipse cx="1286" cy="1281" rx="2" ry="3.4" transform="rotate(-15 1286 1281)" fill="#d3d3d3"/>
<path d="M1211.5,1314.2 L1099.5,1251.5 L1099.5,1163.5 L1211.5,1226.2Z" fill="#97a4ae" />
<path d="M1211.5,1226.2 L1099.5,1163.5 L1099.5,1179.5 L1211.5,1242.2Z" fill="#5a7282" />
<path d="M1211.5,1314.2 L1099.5,1251.5 L1099.5,1239.5 L1211.5,1302.2Z" fill="#5a7282" />
<path d="M1099.5,1251.5 L1107.5,1256 L1107.5,1168 L1099.5,1163.5Z" fill="#7a8a98" fill-opacity="0.75"/>
<path d="M1203.5,1309.7 L1211.5,1314.2 L1211.5,1226.2 L1203.5,1221.7Z" fill="#7a8a98" fill-opacity="0.75"/>
<path d="M1211.5,1314.2 L1295.5,1267.2 L1295.5,1179.2 L1211.5,1226.2Z" fill="#ced1db" />
<path d="M1211.5,1226.2 L1295.5,1179.2 L1295.5,1195.2 L1211.5,1242.2Z" fill="#9eaab8" />
<path d="M1211.5,1314.2 L1295.5,1267.2 L1295.5,1255.2 L1211.5,1302.2Z" fill="#9eaab8" />
<path d="M1211.5,1314.2 L1219.5,1309.7 L1219.5,1221.7 L1211.5,1226.2Z" fill="#a3abb7" fill-opacity="0.7"/>
<path d="M1287.5,1271.6 L1295.5,1267.2 L1295.5,1179.2 L1287.5,1183.6Z" fill="#a3abb7" fill-opacity="0.7"/>
<path d="M1103.9,1165.9C1101.4,1164.6 1101.4,1162.4 1103.9,1161L1179.1,1118.9C1181.6,1117.5 1185.4,1117.5 1187.9,1118.9L1291.1,1176.7C1293.6,1178.1 1293.6,1180.2 1291.1,1181.6L1215.9,1223.8C1213.4,1225.1 1209.6,1225.1 1207.1,1223.8Z" fill="#ccd0d9"/><path d="M1113.3,1164.9C1111.9,1164.1 1111.9,1162.8 1113.3,1162L1180.9,1124.2C1182.3,1123.4 1184.7,1123.4 1186.1,1124.2L1281.7,1177.7C1283.1,1178.5 1283.1,1179.8 1281.7,1180.6L1214.1,1218.4C1212.7,1219.2 1210.3,1219.2 1208.9,1218.4Z" fill="#fff"/>
<ellipse cx="1217.6" cy="1317" rx="5.9" ry="8.5" transform="rotate(-15 1217.6 1317)" fill="#3b3b3d"/><path d="M1203.7,1314.9 L1214.5,1309.1 L1220.7,1324.9 L1209.9,1330.7Z" fill="#3b3b3d"/><ellipse cx="1206.8" cy="1322.8" rx="5.9" ry="8.5" transform="rotate(-15 1206.8 1322.8)" fill="#29292b"/><ellipse cx="1207" cy="1322.8" rx="3.4" ry="5.1" transform="rotate(-15 1207 1322.8)" fill="#e6e6e6"/><ellipse cx="1207.3" cy="1322.8" rx="2" ry="3.4" transform="rotate(-15 1207.3 1322.8)" fill="#d3d3d3"/>
<path d="M1215.9,1131.6C1215.4,1131.4 1215.4,1130.9 1215.9,1130.6L1323.8,1067.7C1327.1,1065.8 1332.5,1065.8 1335.9,1067.7L1382.7,1094.9C1386.1,1096.8 1386.1,1099.9 1382.8,1101.9L1274.9,1164.8C1274.4,1165.1 1273.6,1165.1 1273.1,1164.8Z" fill="#ccd0d9"/><path d="M1209.5,1141.9C1209.1,1141.6 1209.1,1141.2 1209.5,1140.9L1326.3,1072.8C1328.3,1071.7 1331.3,1071.7 1333.3,1072.8L1374,1096.4C1375.9,1097.5 1375.9,1099.3 1374,1100.4L1257.2,1168.5C1256.7,1168.8 1255.9,1168.8 1255.5,1168.5Z" fill="#fff"/>
<path d="M1125.7,1031.8 L1187.2,995.2 L1187.2,1068.8Z" fill="#7f8f8d" stroke="#7f8f8d" stroke-width="1"/>
<path d="M1187.2,995.2 L1253.7,1035.1 L1192.5,1071.7 L1187.2,1068.8Z" fill="#c6cac9" stroke="#c6cac9" stroke-width="1"/>
<path d="M1114.9,1164.4 L1192.5,1209.3 L1264.8,1163.1 L1187.2,1118.2Z" fill="#688181" />
<path d="M1114.9,1031.5 L1192.5,1077.6 L1192.5,1209.3 L1114.9,1164.4Z" fill="#39544f" fill-opacity="0.97"/>
<path d="M1192.5,1077.6 L1264.8,1034.8 L1264.8,1163.1 L1192.5,1209.3Z" fill="#657c7b" fill-opacity="0.97"/>
<path d="M1120.7,1161.9 L1188,1200.9 L1188,1181 L1139.9,1153.6 L1120.7,1161.9Z" fill="#5f7a79" fill-opacity="0.55"/>
<path d="M1198,1200.9 L1259.5,1164.7 L1259.5,1147.8 L1198,1183.5Z" fill="#6d8686" fill-opacity="0.6"/>
<path d="M1198,1087.9 L1259.5,1066.3 L1259.5,1076.3 L1240.4,1083.8 L1216.3,1097.9 L1198,1097.9Z" fill="#56706f" fill-opacity="0.7"/>
<path d="M1149,1113.7 L1193,1136.5 L1193,1184.7 L1149,1161.9Z" fill="#283f44" />
<path d="M1193,1136.5 L1240.4,1112 L1240.4,1160.2 L1193,1184.7Z" fill="#45605f" />
<path d="M1149,1113.7 L1198,1088.8 L1240.4,1112 L1193,1136.5Z" fill="#688181" />
<path d="M1149,1113.7 L1193,1136.5 L1240.4,1112" fill="none" stroke="#5a7574" stroke-width="1" stroke-linecap="round" stroke-linejoin="round"/>
<path d="M1114.9,1031.5 L1187.2,988.2 L1264.8,1034.8 L1192.5,1077.6Z M1125.7,1031.8 L1187.2,995.2 L1253.7,1035.1 L1192.5,1071Z" fill="#c3c9c7" fill-rule="evenodd"/>
<path d="M1188,1076.3 L1198,1076.3 L1198,1206.3 L1192.5,1209.3 L1188,1206.9Z" fill="#9ca7a5" />
<path d="M1114.9,1031.5 L1120.7,1034.8 L1120.7,1167.7 L1114.9,1164.4Z" fill="#9ca7a5" />
<path d="M1259.5,1037.8 L1264.8,1034.8 L1264.8,1163.1 L1259.5,1166Z" fill="#9ca7a5" />
<path d="M1114.9,1164.4 L1192.5,1209.3 L1192.5,1202.9 L1120.7,1161.4Z" fill="#9ca7a5" />
<path d="M1192.5,1209.3 L1264.8,1163.1 L1259.5,1160.2 L1192.5,1202.9Z" fill="#9ca7a5" />
<path d="M1187.2,995.2 L1187.2,1068.8" fill="none" stroke="#9ca7a5" stroke-width="2.5" />
<path d="M1065,1322.8 L1164.4,1265.6 L1164.4,1222.6 L1065,1279.8Z" fill="#9eaab8" />
<path d="M1065,1303.9 L1164.4,1246.7 L1164.4,1243.7 L1065,1300.9Z" fill="#c3c8d2" /><path d="M950.9,1277.4C950.4,1277.1 950.4,1276.7 950.9,1276.4L1098.3,1191.6C1101.7,1189.7 1107.1,1189.7 1110.5,1191.6L1158.3,1219.1C1161.7,1221.1 1161.7,1224.2 1158.3,1226.1L1010.9,1310.9C1010.4,1311.2 1009.6,1311.2 1009.1,1310.9Z" fill="#ccd0d9"/><path d="M956.5,1280.7C956.1,1280.4 956.1,1279.9 956.5,1279.7L1100.9,1196.6C1102.9,1195.5 1105.9,1195.5 1107.9,1196.6L1149.6,1220.6C1151.5,1221.7 1151.5,1223.5 1149.6,1224.6L1005.2,1307.6C1004.7,1307.9 1003.9,1307.9 1003.5,1307.6Z" fill="#fff"/>
<path d="M1039,1226.2 L1099.6,1262.7 L1090.5,1231.2 L1053.1,1210.4Z" fill="#878b8f" />
<path d="M1039,1226.2 L1099.6,1262.7 L1096.9,1253.3 L1043.2,1221.4Z" fill="#666c76" />
<path d="M1099.6,1262.7 L1127.9,1246.9 L1114.6,1216.2 L1090.5,1231.2Z" fill="#c6c8cd" />
<path d="M1099.6,1262.7 L1127.9,1246.9 L1123.9,1237.7 L1096.9,1253.3Z" fill="#94a0ab" />
<path d="M1053.1,1210.4 L1090.5,1231.2 L1114.6,1216.2 L1077.2,1195.4Z" fill="#b9bcc2" />
<path d="M1071,1201.5 v10 a12.5,7.2 0 0 0 25,0 v-10 z" fill="#e6e5e2"/><ellipse cx="1083.5" cy="1201.5" rx="12.5" ry="7.2" fill="#d3d5da"/><ellipse cx="1083.5" cy="1201.5" rx="10.9" ry="6.1" fill="#f3f3f2"/>
<path d="M1077.2,1176.3 L1090,1176.3 L1090,1200.4 L1077.2,1200.4Z" fill="#9eaab8" />
<path d="M1022.9,1065.9C1022.6,1065.4 1022.8,1064.8 1023.2,1064.5L1034.8,1057.5C1035.3,1057.2 1035.9,1057.4 1036.2,1057.8L1100.7,1153.1C1103.8,1157.7 1103.3,1164.6 1099.5,1168.7L1093.4,1175.4C1090.4,1178.7 1086.3,1178.2 1084.1,1174.3Z" fill="#b0b5bd"/>
<path d="M1022.4,1065 L1035.7,1057 L1040.5,1066.6 L1027.4,1074.6Z" fill="#8d99a6" />
<path d="M1015.7,1079.9 L1078.4,1165" stroke="#c8ccd3" stroke-width="17.5" stroke-linecap="round" fill="none"/>
<path d="M1015.7,1079.9 L1078.4,1165" stroke="#e4e5e9" stroke-width="13.5" stroke-linecap="round" fill="none"/>
<ellipse cx="1017.3" cy="1080.6" rx="15.5" ry="21" transform="rotate(-22 1015.7 1080)" fill="#9aa0a8"/><ellipse cx="1015.7" cy="1080" rx="15.5" ry="21" transform="rotate(-22 1015.7 1080)" fill="#c7cad1"/><ellipse cx="1015.7" cy="1080" rx="11.9" ry="17" transform="rotate(-22 1015.7 1080)" fill="#f1f1f2"/>
<ellipse cx="742.2" cy="1451.4" rx="5.9" ry="8.5" transform="rotate(-15 742.2 1451.4)" fill="#3b3b3d"/><path d="M728.3,1449.3 L739.1,1443.5 L745.3,1459.3 L734.5,1465.1Z" fill="#3b3b3d"/><ellipse cx="731.4" cy="1457.2" rx="5.9" ry="8.5" transform="rotate(-15 731.4 1457.2)" fill="#29292b"/><ellipse cx="731.6" cy="1457.2" rx="3.4" ry="5.1" transform="rotate(-15 731.6 1457.2)" fill="#e6e6e6"/><ellipse cx="731.9" cy="1457.2" rx="2" ry="3.4" transform="rotate(-15 731.9 1457.2)" fill="#d3d3d3"/>
<ellipse cx="1063.9" cy="1406.7" rx="5.9" ry="8.5" transform="rotate(-15 1063.9 1406.7)" fill="#3b3b3d"/><path d="M1050,1404.6 L1060.8,1398.8 L1067,1414.6 L1056.2,1420.4Z" fill="#3b3b3d"/><ellipse cx="1053.1" cy="1412.5" rx="5.9" ry="8.5" transform="rotate(-15 1053.1 1412.5)" fill="#29292b"/><ellipse cx="1053.3" cy="1412.5" rx="3.4" ry="5.1" transform="rotate(-15 1053.3 1412.5)" fill="#e6e6e6"/><ellipse cx="1053.6" cy="1412.5" rx="2" ry="3.4" transform="rotate(-15 1053.6 1412.5)" fill="#d3d3d3"/>
<path d="M852.5,1517.1 L722,1444 L722,1164 L852.5,1237.1Z" fill="#97a4ae" />
<path d="M852.5,1246.1 L722,1173 L722,1164 L852.5,1237.1Z" fill="#5a7282" />
<path d="M852.5,1517.1 L722,1444 L722,1431 L852.5,1504.1Z" fill="#5a7282" />
<path d="M852.5,1517.1 L845,1512.9 L845,1232.9 L852.5,1237.1Z" fill="#7a8a98" fill-opacity="0.85"/>
<path d="M729.5,1448.2 L722,1444 L722,1164 L729.5,1168.2Z" fill="#7a8a98" fill-opacity="0.85"/>
<path d="M852.5,1517.1 L1065.5,1396.5 L1065.5,1254.5 L852.5,1375.1Z" fill="#ced1db" />
<path d="M852.5,1375.1 L891.4,1353.1 L891.4,1215.1 L852.5,1237.1Z" fill="#ced1db" />
<path d="M891.4,1259.1 L1065.5,1160.5 L1065.5,1116.5 L891.4,1215.1Z" fill="#ced1db" />
<path d="M891.4,1353.1 L1065.5,1255.7 L982.3,1207.6 L891.4,1258.6Z" fill="#fff" />
<g clip-path="url(#mopen2)"><path d="M1066.5,1256 L1006,1221.2" fill="none" stroke="#ccd0d9" stroke-width="5.5" stroke-linecap="butt"/></g>
<g clip-path="url(#mopen)">
<path d="M943.8,1243.3 v21.5 a37.2,21 0 0 0 74.4,0 v-21.5 z" fill="#e3e2df"/>
<path d="M969,1263 v21.5 a37.2,21 0 0 0 42.5,-7.8 v-21.5 z" fill="#c5c4c0"/>
<path d="M1011.5,1255.3 v21.5 a37.2,21 0 0 0 6.7,-12 v-21.5 z" fill="#b3b2ad"/>
<ellipse cx="981" cy="1243.3" rx="37.2" ry="21" fill="#e3e2df"/>
<ellipse cx="980" cy="1238.3" rx="30" ry="13" fill="#7d7872"/>
<path d="M950,1123.3 V1243 a6.1,3 0 0 0 12.2,0 V1123.3 z" fill="url(#tube)"/>
<path d="M959.6,1123.3 V1246 a6.1,3 0 0 0 12.2,0 V1123.3 z" fill="url(#tube)"/>
<path d="M969.1,1123.3 V1247.2 a6.1,3 0 0 0 12.2,0 V1123.3 z" fill="url(#tube)"/>
<path d="M978.7,1123.3 V1247.2 a6.1,3 0 0 0 12.2,0 V1123.3 z" fill="url(#tube)"/>
<path d="M988.2,1123.3 V1246 a6.1,3 0 0 0 12.2,0 V1123.3 z" fill="url(#tube)"/>
<path d="M997.8,1123.3 V1243 a6.1,3 0 0 0 12.2,0 V1123.3 z" fill="url(#tube)"/>
<path d="M880.6,1277.6 v21.5 a37.2,21 0 0 0 74.4,0 v-21.5 z" fill="#e3e2df"/>
<path d="M905.8,1297.3 v21.5 a37.2,21 0 0 0 42.5,-7.8 v-21.5 z" fill="#c5c4c0"/>
<path d="M948.3,1289.6 v21.5 a37.2,21 0 0 0 6.7,-12 v-21.5 z" fill="#b3b2ad"/>
<ellipse cx="917.8" cy="1277.6" rx="37.2" ry="21" fill="#e3e2df"/>
<ellipse cx="916.8" cy="1272.6" rx="30" ry="13" fill="#7d7872"/>
<path d="M886.8,1157.6 V1277.3 a6.1,3 0 0 0 12.2,0 V1157.6 z" fill="url(#tube)"/>
<path d="M896.4,1157.6 V1280.3 a6.1,3 0 0 0 12.2,0 V1157.6 z" fill="url(#tube)"/>
<path d="M905.9,1157.6 V1281.5 a6.1,3 0 0 0 12.2,0 V1157.6 z" fill="url(#tube)"/>
<path d="M915.5,1157.6 V1281.5 a6.1,3 0 0 0 12.2,0 V1157.6 z" fill="url(#tube)"/>
<path d="M925,1157.6 V1280.3 a6.1,3 0 0 0 12.2,0 V1157.6 z" fill="url(#tube)"/>
<path d="M934.6,1157.6 V1277.3 a6.1,3 0 0 0 12.2,0 V1157.6 z" fill="url(#tube)"/>
</g>
<path d="M852.5,1517.1 L860.3,1512.7 L860.3,1232.7 L852.5,1237.1Z" fill="#a3abb7" />
<path d="M882.9,1357.9 L891.4,1353.1 L891.4,1259.1 L882.9,1263.9Z" fill="#9eaab8" />
<path d="M852.5,1281.1 L1065.5,1160.5 L1065.5,1151.5 L852.5,1272.1Z" fill="#9eaab8" />
<path d="M852.5,1272.1 L1065.5,1151.5 L1065.5,1116.5 L852.5,1237.1Z" fill="#ced1db" />
<path d="M852.5,1246.1 L1065.5,1125.5 L1065.5,1116.5 L852.5,1237.1Z" fill="#9eaab8" />
<path d="M852.5,1281.1 L860.3,1276.7 L860.3,1232.7 L852.5,1237.1Z" fill="#a3abb7" fill-opacity="0.6"/>
<path d="M852.5,1396.1 L1065.5,1275.5 L1065.5,1255.5 L852.5,1376.1Z" fill="#9eaab8" />
<path d="M891.4,1354.1 L1065.5,1255.5 L1065.5,1252.5 L891.4,1351.1Z" fill="#ccd0d9" />
<path d="M852.5,1517.1 L1065.5,1396.5 L1065.5,1384.5 L852.5,1505.1Z" fill="#9eaab8" />
<path d="M922.5,1465.5 L924.5,1464.3 L924.5,1355.3 L922.5,1356.5Z" fill="#9eaab8" />
<path d="M993.5,1425.3 L995.5,1424.2 L995.5,1315.2 L993.5,1316.3Z" fill="#9eaab8" />
<path d="M725.5,1166C723.5,1164.9 723.5,1163.2 725.5,1162L931.5,1045.4C933.5,1044.3 936.5,1044.3 938.5,1045.4L1062,1114.6C1064,1115.7 1064,1117.4 1062,1118.5L856,1235.1C854,1236.2 851,1236.2 849,1235.1Z" fill="#ccd0d9"/><path d="M739.1,1165C738.1,1164.4 738.1,1163.6 739,1163L933.3,1053.1C934.2,1052.5 935.8,1052.5 936.7,1053.1L1048.4,1115.6C1049.4,1116.1 1049.4,1117 1048.5,1117.5L854.2,1227.5C853.3,1228 851.7,1228 850.8,1227.5Z" fill="#fff"/>
<ellipse cx="858.6" cy="1519.9" rx="5.9" ry="8.5" transform="rotate(-15 858.6 1519.9)" fill="#3b3b3d"/><path d="M844.7,1517.8 L855.5,1512 L861.7,1527.8 L850.9,1533.6Z" fill="#3b3b3d"/><ellipse cx="847.8" cy="1525.7" rx="5.9" ry="8.5" transform="rotate(-15 847.8 1525.7)" fill="#29292b"/><ellipse cx="848" cy="1525.7" rx="3.4" ry="5.1" transform="rotate(-15 848 1525.7)" fill="#e6e6e6"/><ellipse cx="848.3" cy="1525.7" rx="2" ry="3.4" transform="rotate(-15 848.3 1525.7)" fill="#d3d3d3"/>
<ellipse cx="962.3" cy="1463.2" rx="5.9" ry="8.5" transform="rotate(-15 962.3 1463.2)" fill="#3b3b3d"/><path d="M948.4,1461.1 L959.2,1455.3 L965.4,1471.1 L954.6,1476.9Z" fill="#3b3b3d"/><ellipse cx="951.5" cy="1469" rx="5.9" ry="8.5" transform="rotate(-15 951.5 1469)" fill="#29292b"/><ellipse cx="951.7" cy="1469" rx="3.4" ry="5.1" transform="rotate(-15 951.7 1469)" fill="#e6e6e6"/><ellipse cx="952" cy="1469" rx="2" ry="3.4" transform="rotate(-15 952 1469)" fill="#d3d3d3"/>
<g id="pf_p3"><path d="M691.7,1977.6C675.1,1968.3 675,1953.6 691.5,1944.1L1151.1,1681.7C1167.6,1672.2 1193.7,1672.1 1210.3,1681.4L1396.7,1785.7C1411.4,1793.9 1411.4,1806.8 1396.8,1815.2L935.6,2078.6C918.1,2088.6 890.5,2088.8 872.9,2078.9Z M679.2,1919 L1407.7,1758.3 L1407.7,1800.3 L679.2,1961Z" fill="url(#g_p3)"/><path d="M691.7,1931.6 L872.9,2032.9 L872.9,2079.2 L691.7,1977.9Z" fill="url(#hl_p3)"/><path d="M935.3,2030.8 L1393.8,1768.9 L1393.8,1817.2 L935.3,2079.1Z" fill="url(#ov_p3)"/><path d="M691.7,1935.6C675.1,1926.3 675,1911.6 691.5,1902.1L1151.1,1639.7C1167.6,1630.2 1193.7,1630.1 1210.3,1639.4L1396.7,1743.7C1411.4,1751.9 1411.4,1764.8 1396.8,1773.2L935.6,2036.6C918.1,2046.6 890.5,2046.8 872.9,2036.9Z" fill="#dcdddc"/><path d="M701.5,1933.7C686.8,1925.5 686.7,1912.4 701.3,1904.1L1154.5,1645.2C1169.1,1636.8 1192.2,1636.7 1206.9,1645L1386.9,1745.6C1399.7,1752.7 1399.7,1764 1387,1771.2L932.2,2031.1C916.6,2040 892,2040.1 876.3,2031.4Z" fill="#fff"/></g>
<ellipse cx="1340.3" cy="1779.7" rx="5.9" ry="8.5" transform="rotate(-15 1340.3 1779.7)" fill="#3b3b3d"/><path d="M1326.4,1777.6 L1337.2,1771.8 L1343.4,1787.6 L1332.6,1793.4Z" fill="#3b3b3d"/><ellipse cx="1329.5" cy="1785.5" rx="5.9" ry="8.5" transform="rotate(-15 1329.5 1785.5)" fill="#29292b"/><ellipse cx="1329.7" cy="1785.5" rx="3.4" ry="5.1" transform="rotate(-15 1329.7 1785.5)" fill="#e6e6e6"/><ellipse cx="1330" cy="1785.5" rx="2" ry="3.4" transform="rotate(-15 1330 1785.5)" fill="#d3d3d3"/>
<path d="M1198.7,1853.8 L1066.7,1777.2 L1066.7,1634.2 L1198.7,1710.8Z" fill="#97a4ae" />
<path d="M1198.7,1710.8 L1066.7,1634.2 L1066.7,1652.2 L1198.7,1728.8Z" fill="#5a7282" />
<path d="M1198.7,1853.8 L1341.2,1774 L1341.2,1631 L1198.7,1710.8Z" fill="#ced1db" />
<path d="M1198.7,1710.8 L1341.2,1631 L1341.2,1649 L1198.7,1728.8Z" fill="#9eaab8" />
<path d="M1198.7,1853.8 L1066.7,1777.2 L1066.7,1725.2 L1198.7,1801.8Z" fill="#5c7077" />
<path d="M1198.7,1853.8 L1066.7,1777.2 L1066.7,1760.2 L1198.7,1836.8Z" fill="#40555d" />
<path d="M1198.7,1853.8 L1341.2,1774 L1341.2,1717 L1198.7,1796.8Z" fill="#a3a9b3" />
<path d="M1198.7,1853.8 L1341.2,1774 L1341.2,1757 L1198.7,1836.8Z" fill="#8492a0" />
<path d="M1198.7,1853.8 L1189.7,1848.6 L1189.7,1705.6 L1198.7,1710.8Z" fill="#3f5666" fill-opacity="0.35"/>
<path d="M1075.7,1782.5 L1066.7,1777.2 L1066.7,1634.2 L1075.7,1639.5Z" fill="#3f5666" fill-opacity="0.3"/>
<path d="M1198.7,1853.8 L1207.7,1848.8 L1207.7,1705.8 L1198.7,1710.8Z" fill="#6f7f90" fill-opacity="0.4"/>
<path d="M1332.2,1779 L1341.2,1774 L1341.2,1631 L1332.2,1636Z" fill="#6f7f90" fill-opacity="0.45"/>
<path d="M1071.9,1637.3C1069,1635.6 1069,1633 1071.9,1631.3L1204,1557.4C1206.9,1555.7 1211.5,1555.8 1214.4,1557.5L1336,1628C1338.9,1629.7 1338.9,1632.3 1336,1633.9L1203.9,1707.9C1201,1709.5 1196.4,1709.5 1193.5,1707.8Z" fill="#ccd0d9"/><path d="M1082.4,1636.3C1080.5,1635.1 1080.5,1633.4 1082.4,1632.3L1205.7,1563.3C1207.7,1562.2 1210.7,1562.2 1212.7,1563.3L1325.5,1629C1327.4,1630.1 1327.4,1631.9 1325.5,1633L1202.2,1701.9C1200.2,1703 1197.2,1703 1195.2,1701.9Z" fill="#fff"/>
<ellipse cx="1204.8" cy="1856.5" rx="5.9" ry="8.5" transform="rotate(-15 1204.8 1856.5)" fill="#3b3b3d"/><path d="M1190.9,1854.4 L1201.7,1848.6 L1207.9,1864.4 L1197.1,1870.2Z" fill="#3b3b3d"/><ellipse cx="1194" cy="1862.3" rx="5.9" ry="8.5" transform="rotate(-15 1194 1862.3)" fill="#29292b"/><ellipse cx="1194.2" cy="1862.3" rx="3.4" ry="5.1" transform="rotate(-15 1194.2 1862.3)" fill="#e6e6e6"/><ellipse cx="1194.5" cy="1862.3" rx="2" ry="3.4" transform="rotate(-15 1194.5 1862.3)" fill="#d3d3d3"/>
<ellipse cx="1207.2" cy="1577.1" rx="14.2" ry="8" fill="#cfcbc7"/><ellipse cx="1207.2" cy="1576.8" rx="10.4" ry="5.9" fill="#b2aeaa"/><path d="M1197.2,1524.1 V1576.1 a10,5.6 0 0 0 20,0 V1524.1 z" fill="#fdfeff" fill-opacity="0.42" stroke="#aebfc8" stroke-opacity="0.8" stroke-width="1.4"/><path d="M1201.5,1550.6 V1574.6 a5.7,3.2 0 0 0 11.4,0 V1550.6 z" fill="#c6d1d8" fill-opacity="0.9"/><ellipse cx="1207.2" cy="1550.6" rx="5.7" ry="3.2" fill="#d7dfe4"/><ellipse cx="1207.2" cy="1524.1" rx="8.9" ry="4.7" fill="#fff" stroke="#a3b6c0" stroke-width="2.6"/>
<ellipse cx="1230.1" cy="1590.6" rx="14.2" ry="8" fill="#cfcbc7"/><ellipse cx="1230.1" cy="1590.3" rx="10.4" ry="5.9" fill="#b2aeaa"/><path d="M1220.1,1537.6 V1589.6 a10,5.6 0 0 0 20,0 V1537.6 z" fill="#fdfeff" fill-opacity="0.42" stroke="#aebfc8" stroke-opacity="0.8" stroke-width="1.4"/><path d="M1224.4,1564.1 V1588.1 a5.7,3.2 0 0 0 11.4,0 V1564.1 z" fill="#c6d1d8" fill-opacity="0.9"/><ellipse cx="1230.1" cy="1564.1" rx="5.7" ry="3.2" fill="#d7dfe4"/><ellipse cx="1230.1" cy="1537.6" rx="8.9" ry="4.7" fill="#fff" stroke="#a3b6c0" stroke-width="2.6"/>
<ellipse cx="1182.9" cy="1590.8" rx="14.2" ry="8" fill="#cfcbc7"/><ellipse cx="1182.9" cy="1590.5" rx="10.4" ry="5.9" fill="#b2aeaa"/><path d="M1172.9,1537.8 V1589.8 a10,5.6 0 0 0 20,0 V1537.8 z" fill="#fdfeff" fill-opacity="0.42" stroke="#aebfc8" stroke-opacity="0.8" stroke-width="1.4"/><path d="M1177.2,1564.3 V1588.3 a5.7,3.2 0 0 0 11.4,0 V1564.3 z" fill="#c6d1d8" fill-opacity="0.9"/><ellipse cx="1182.9" cy="1564.3" rx="5.7" ry="3.2" fill="#d7dfe4"/><ellipse cx="1182.9" cy="1537.8" rx="8.9" ry="4.7" fill="#fff" stroke="#a3b6c0" stroke-width="2.6"/>
<ellipse cx="1253" cy="1604.1" rx="14.2" ry="8" fill="#cfcbc7"/><ellipse cx="1253" cy="1603.8" rx="10.4" ry="5.9" fill="#b2aeaa"/><path d="M1243,1551.1 V1603.1 a10,5.6 0 0 0 20,0 V1551.1 z" fill="#fdfeff" fill-opacity="0.42" stroke="#aebfc8" stroke-opacity="0.8" stroke-width="1.4"/><path d="M1247.3,1577.6 V1601.6 a5.7,3.2 0 0 0 11.4,0 V1577.6 z" fill="#c6d1d8" fill-opacity="0.9"/><ellipse cx="1253" cy="1577.6" rx="5.7" ry="3.2" fill="#d7dfe4"/><ellipse cx="1253" cy="1551.1" rx="8.9" ry="4.7" fill="#fff" stroke="#a3b6c0" stroke-width="2.6"/>
<ellipse cx="1205.8" cy="1604.3" rx="14.2" ry="8" fill="#cfcbc7"/><ellipse cx="1205.8" cy="1604" rx="10.4" ry="5.9" fill="#b2aeaa"/><path d="M1195.8,1551.3 V1603.3 a10,5.6 0 0 0 20,0 V1551.3 z" fill="#fdfeff" fill-opacity="0.42" stroke="#aebfc8" stroke-opacity="0.8" stroke-width="1.4"/><path d="M1200.1,1577.8 V1601.8 a5.7,3.2 0 0 0 11.4,0 V1577.8 z" fill="#c6d1d8" fill-opacity="0.9"/><ellipse cx="1205.8" cy="1577.8" rx="5.7" ry="3.2" fill="#d7dfe4"/><ellipse cx="1205.8" cy="1551.3" rx="8.9" ry="4.7" fill="#fff" stroke="#a3b6c0" stroke-width="2.6"/>
<ellipse cx="1158.6" cy="1604.5" rx="14.2" ry="8" fill="#cfcbc7"/><ellipse cx="1158.6" cy="1604.2" rx="10.4" ry="5.9" fill="#b2aeaa"/><path d="M1148.6,1551.5 V1603.5 a10,5.6 0 0 0 20,0 V1551.5 z" fill="#fdfeff" fill-opacity="0.42" stroke="#aebfc8" stroke-opacity="0.8" stroke-width="1.4"/><path d="M1152.9,1578 V1602 a5.7,3.2 0 0 0 11.4,0 V1578 z" fill="#c6d1d8" fill-opacity="0.9"/><ellipse cx="1158.6" cy="1578" rx="5.7" ry="3.2" fill="#d7dfe4"/><ellipse cx="1158.6" cy="1551.5" rx="8.9" ry="4.7" fill="#fff" stroke="#a3b6c0" stroke-width="2.6"/>
<ellipse cx="1275.9" cy="1617.6" rx="14.2" ry="8" fill="#cfcbc7"/><ellipse cx="1275.9" cy="1617.3" rx="10.4" ry="5.9" fill="#b2aeaa"/><path d="M1265.9,1564.6 V1616.6 a10,5.6 0 0 0 20,0 V1564.6 z" fill="#fdfeff" fill-opacity="0.42" stroke="#aebfc8" stroke-opacity="0.8" stroke-width="1.4"/><path d="M1270.2,1591.1 V1615.1 a5.7,3.2 0 0 0 11.4,0 V1591.1 z" fill="#c6d1d8" fill-opacity="0.9"/><ellipse cx="1275.9" cy="1591.1" rx="5.7" ry="3.2" fill="#d7dfe4"/><ellipse cx="1275.9" cy="1564.6" rx="8.9" ry="4.7" fill="#fff" stroke="#a3b6c0" stroke-width="2.6"/>
<ellipse cx="1228.7" cy="1617.8" rx="14.2" ry="8" fill="#cfcbc7"/><ellipse cx="1228.7" cy="1617.5" rx="10.4" ry="5.9" fill="#b2aeaa"/><path d="M1218.7,1564.8 V1616.8 a10,5.6 0 0 0 20,0 V1564.8 z" fill="#fdfeff" fill-opacity="0.42" stroke="#aebfc8" stroke-opacity="0.8" stroke-width="1.4"/><path d="M1223,1591.3 V1615.3 a5.7,3.2 0 0 0 11.4,0 V1591.3 z" fill="#c6d1d8" fill-opacity="0.9"/><ellipse cx="1228.7" cy="1591.3" rx="5.7" ry="3.2" fill="#d7dfe4"/><ellipse cx="1228.7" cy="1564.8" rx="8.9" ry="4.7" fill="#fff" stroke="#a3b6c0" stroke-width="2.6"/>
<ellipse cx="1181.5" cy="1618" rx="14.2" ry="8" fill="#cfcbc7"/><ellipse cx="1181.5" cy="1617.7" rx="10.4" ry="5.9" fill="#b2aeaa"/><path d="M1171.5,1565 V1617 a10,5.6 0 0 0 20,0 V1565 z" fill="#fdfeff" fill-opacity="0.42" stroke="#aebfc8" stroke-opacity="0.8" stroke-width="1.4"/><path d="M1175.8,1591.5 V1615.5 a5.7,3.2 0 0 0 11.4,0 V1591.5 z" fill="#c6d1d8" fill-opacity="0.9"/><ellipse cx="1181.5" cy="1591.5" rx="5.7" ry="3.2" fill="#d7dfe4"/><ellipse cx="1181.5" cy="1565" rx="8.9" ry="4.7" fill="#fff" stroke="#a3b6c0" stroke-width="2.6"/>
<ellipse cx="1134.3" cy="1618.2" rx="14.2" ry="8" fill="#cfcbc7"/><ellipse cx="1134.3" cy="1617.9" rx="10.4" ry="5.9" fill="#b2aeaa"/><path d="M1124.3,1565.2 V1617.2 a10,5.6 0 0 0 20,0 V1565.2 z" fill="#fdfeff" fill-opacity="0.42" stroke="#aebfc8" stroke-opacity="0.8" stroke-width="1.4"/><path d="M1128.6,1591.7 V1615.7 a5.7,3.2 0 0 0 11.4,0 V1591.7 z" fill="#c6d1d8" fill-opacity="0.9"/><ellipse cx="1134.3" cy="1591.7" rx="5.7" ry="3.2" fill="#d7dfe4"/><ellipse cx="1134.3" cy="1565.2" rx="8.9" ry="4.7" fill="#fff" stroke="#a3b6c0" stroke-width="2.6"/>
<ellipse cx="1298.8" cy="1631.1" rx="14.2" ry="8" fill="#cfcbc7"/><ellipse cx="1298.8" cy="1630.8" rx="10.4" ry="5.9" fill="#b2aeaa"/><path d="M1288.8,1578.1 V1630.1 a10,5.6 0 0 0 20,0 V1578.1 z" fill="#fdfeff" fill-opacity="0.42" stroke="#aebfc8" stroke-opacity="0.8" stroke-width="1.4"/><path d="M1293.1,1604.6 V1628.6 a5.7,3.2 0 0 0 11.4,0 V1604.6 z" fill="#c6d1d8" fill-opacity="0.9"/><ellipse cx="1298.8" cy="1604.6" rx="5.7" ry="3.2" fill="#d7dfe4"/><ellipse cx="1298.8" cy="1578.1" rx="8.9" ry="4.7" fill="#fff" stroke="#a3b6c0" stroke-width="2.6"/>
<ellipse cx="1251.6" cy="1631.3" rx="14.2" ry="8" fill="#cfcbc7"/><ellipse cx="1251.6" cy="1631" rx="10.4" ry="5.9" fill="#b2aeaa"/><path d="M1241.6,1578.3 V1630.3 a10,5.6 0 0 0 20,0 V1578.3 z" fill="#fdfeff" fill-opacity="0.42" stroke="#aebfc8" stroke-opacity="0.8" stroke-width="1.4"/><path d="M1245.9,1604.8 V1628.8 a5.7,3.2 0 0 0 11.4,0 V1604.8 z" fill="#c6d1d8" fill-opacity="0.9"/><ellipse cx="1251.6" cy="1604.8" rx="5.7" ry="3.2" fill="#d7dfe4"/><ellipse cx="1251.6" cy="1578.3" rx="8.9" ry="4.7" fill="#fff" stroke="#a3b6c0" stroke-width="2.6"/>
<ellipse cx="1204.4" cy="1631.5" rx="14.2" ry="8" fill="#cfcbc7"/><ellipse cx="1204.4" cy="1631.2" rx="10.4" ry="5.9" fill="#b2aeaa"/><path d="M1194.4,1578.5 V1630.5 a10,5.6 0 0 0 20,0 V1578.5 z" fill="#fdfeff" fill-opacity="0.42" stroke="#aebfc8" stroke-opacity="0.8" stroke-width="1.4"/><path d="M1198.7,1605 V1629 a5.7,3.2 0 0 0 11.4,0 V1605 z" fill="#c6d1d8" fill-opacity="0.9"/><ellipse cx="1204.4" cy="1605" rx="5.7" ry="3.2" fill="#d7dfe4"/><ellipse cx="1204.4" cy="1578.5" rx="8.9" ry="4.7" fill="#fff" stroke="#a3b6c0" stroke-width="2.6"/>
<ellipse cx="1157.2" cy="1631.7" rx="14.2" ry="8" fill="#cfcbc7"/><ellipse cx="1157.2" cy="1631.4" rx="10.4" ry="5.9" fill="#b2aeaa"/><path d="M1147.2,1578.7 V1630.7 a10,5.6 0 0 0 20,0 V1578.7 z" fill="#fdfeff" fill-opacity="0.42" stroke="#aebfc8" stroke-opacity="0.8" stroke-width="1.4"/><path d="M1151.5,1605.2 V1629.2 a5.7,3.2 0 0 0 11.4,0 V1605.2 z" fill="#c6d1d8" fill-opacity="0.9"/><ellipse cx="1157.2" cy="1605.2" rx="5.7" ry="3.2" fill="#d7dfe4"/><ellipse cx="1157.2" cy="1578.7" rx="8.9" ry="4.7" fill="#fff" stroke="#a3b6c0" stroke-width="2.6"/>
<ellipse cx="1110" cy="1631.9" rx="14.2" ry="8" fill="#cfcbc7"/><ellipse cx="1110" cy="1631.6" rx="10.4" ry="5.9" fill="#b2aeaa"/><path d="M1100,1578.9 V1630.9 a10,5.6 0 0 0 20,0 V1578.9 z" fill="#fdfeff" fill-opacity="0.42" stroke="#aebfc8" stroke-opacity="0.8" stroke-width="1.4"/><path d="M1104.3,1605.4 V1629.4 a5.7,3.2 0 0 0 11.4,0 V1605.4 z" fill="#c6d1d8" fill-opacity="0.9"/><ellipse cx="1110" cy="1605.4" rx="5.7" ry="3.2" fill="#d7dfe4"/><ellipse cx="1110" cy="1578.9" rx="8.9" ry="4.7" fill="#fff" stroke="#a3b6c0" stroke-width="2.6"/>
<ellipse cx="1274.5" cy="1644.8" rx="14.2" ry="8" fill="#cfcbc7"/><ellipse cx="1274.5" cy="1644.5" rx="10.4" ry="5.9" fill="#b2aeaa"/><path d="M1264.5,1591.8 V1643.8 a10,5.6 0 0 0 20,0 V1591.8 z" fill="#fdfeff" fill-opacity="0.42" stroke="#aebfc8" stroke-opacity="0.8" stroke-width="1.4"/><path d="M1268.8,1618.3 V1642.3 a5.7,3.2 0 0 0 11.4,0 V1618.3 z" fill="#c6d1d8" fill-opacity="0.9"/><ellipse cx="1274.5" cy="1618.3" rx="5.7" ry="3.2" fill="#d7dfe4"/><ellipse cx="1274.5" cy="1591.8" rx="8.9" ry="4.7" fill="#fff" stroke="#a3b6c0" stroke-width="2.6"/>
<ellipse cx="1227.3" cy="1645" rx="14.2" ry="8" fill="#cfcbc7"/><ellipse cx="1227.3" cy="1644.7" rx="10.4" ry="5.9" fill="#b2aeaa"/><path d="M1217.3,1592 V1644 a10,5.6 0 0 0 20,0 V1592 z" fill="#fdfeff" fill-opacity="0.42" stroke="#aebfc8" stroke-opacity="0.8" stroke-width="1.4"/><path d="M1221.6,1618.5 V1642.5 a5.7,3.2 0 0 0 11.4,0 V1618.5 z" fill="#c6d1d8" fill-opacity="0.9"/><ellipse cx="1227.3" cy="1618.5" rx="5.7" ry="3.2" fill="#d7dfe4"/><ellipse cx="1227.3" cy="1592" rx="8.9" ry="4.7" fill="#fff" stroke="#a3b6c0" stroke-width="2.6"/>
<ellipse cx="1180.1" cy="1645.2" rx="14.2" ry="8" fill="#cfcbc7"/><ellipse cx="1180.1" cy="1644.9" rx="10.4" ry="5.9" fill="#b2aeaa"/><path d="M1170.1,1592.2 V1644.2 a10,5.6 0 0 0 20,0 V1592.2 z" fill="#fdfeff" fill-opacity="0.42" stroke="#aebfc8" stroke-opacity="0.8" stroke-width="1.4"/><path d="M1174.4,1618.7 V1642.7 a5.7,3.2 0 0 0 11.4,0 V1618.7 z" fill="#c6d1d8" fill-opacity="0.9"/><ellipse cx="1180.1" cy="1618.7" rx="5.7" ry="3.2" fill="#d7dfe4"/><ellipse cx="1180.1" cy="1592.2" rx="8.9" ry="4.7" fill="#fff" stroke="#a3b6c0" stroke-width="2.6"/>
<ellipse cx="1132.9" cy="1645.4" rx="14.2" ry="8" fill="#cfcbc7"/><ellipse cx="1132.9" cy="1645.1" rx="10.4" ry="5.9" fill="#b2aeaa"/><path d="M1122.9,1592.4 V1644.4 a10,5.6 0 0 0 20,0 V1592.4 z" fill="#fdfeff" fill-opacity="0.42" stroke="#aebfc8" stroke-opacity="0.8" stroke-width="1.4"/><path d="M1127.2,1618.9 V1642.9 a5.7,3.2 0 0 0 11.4,0 V1618.9 z" fill="#c6d1d8" fill-opacity="0.9"/><ellipse cx="1132.9" cy="1618.9" rx="5.7" ry="3.2" fill="#d7dfe4"/><ellipse cx="1132.9" cy="1592.4" rx="8.9" ry="4.7" fill="#fff" stroke="#a3b6c0" stroke-width="2.6"/>
<ellipse cx="1250.2" cy="1658.5" rx="14.2" ry="8" fill="#cfcbc7"/><ellipse cx="1250.2" cy="1658.2" rx="10.4" ry="5.9" fill="#b2aeaa"/><path d="M1240.2,1605.5 V1657.5 a10,5.6 0 0 0 20,0 V1605.5 z" fill="#fdfeff" fill-opacity="0.42" stroke="#aebfc8" stroke-opacity="0.8" stroke-width="1.4"/><path d="M1244.5,1632 V1656 a5.7,3.2 0 0 0 11.4,0 V1632 z" fill="#c6d1d8" fill-opacity="0.9"/><ellipse cx="1250.2" cy="1632" rx="5.7" ry="3.2" fill="#d7dfe4"/><ellipse cx="1250.2" cy="1605.5" rx="8.9" ry="4.7" fill="#fff" stroke="#a3b6c0" stroke-width="2.6"/>
<ellipse cx="1203" cy="1658.7" rx="14.2" ry="8" fill="#cfcbc7"/><ellipse cx="1203" cy="1658.4" rx="10.4" ry="5.9" fill="#b2aeaa"/><path d="M1193,1605.7 V1657.7 a10,5.6 0 0 0 20,0 V1605.7 z" fill="#fdfeff" fill-opacity="0.42" stroke="#aebfc8" stroke-opacity="0.8" stroke-width="1.4"/><path d="M1197.3,1632.2 V1656.2 a5.7,3.2 0 0 0 11.4,0 V1632.2 z" fill="#c6d1d8" fill-opacity="0.9"/><ellipse cx="1203" cy="1632.2" rx="5.7" ry="3.2" fill="#d7dfe4"/><ellipse cx="1203" cy="1605.7" rx="8.9" ry="4.7" fill="#fff" stroke="#a3b6c0" stroke-width="2.6"/>
<ellipse cx="1155.8" cy="1658.9" rx="14.2" ry="8" fill="#cfcbc7"/><ellipse cx="1155.8" cy="1658.6" rx="10.4" ry="5.9" fill="#b2aeaa"/><path d="M1145.8,1605.9 V1657.9 a10,5.6 0 0 0 20,0 V1605.9 z" fill="#fdfeff" fill-opacity="0.42" stroke="#aebfc8" stroke-opacity="0.8" stroke-width="1.4"/><path d="M1150.1,1632.4 V1656.4 a5.7,3.2 0 0 0 11.4,0 V1632.4 z" fill="#c6d1d8" fill-opacity="0.9"/><ellipse cx="1155.8" cy="1632.4" rx="5.7" ry="3.2" fill="#d7dfe4"/><ellipse cx="1155.8" cy="1605.9" rx="8.9" ry="4.7" fill="#fff" stroke="#a3b6c0" stroke-width="2.6"/>
<ellipse cx="1225.9" cy="1672.2" rx="14.2" ry="8" fill="#cfcbc7"/><ellipse cx="1225.9" cy="1671.9" rx="10.4" ry="5.9" fill="#b2aeaa"/><path d="M1215.9,1619.2 V1671.2 a10,5.6 0 0 0 20,0 V1619.2 z" fill="#fdfeff" fill-opacity="0.42" stroke="#aebfc8" stroke-opacity="0.8" stroke-width="1.4"/><path d="M1220.2,1645.7 V1669.7 a5.7,3.2 0 0 0 11.4,0 V1645.7 z" fill="#c6d1d8" fill-opacity="0.9"/><ellipse cx="1225.9" cy="1645.7" rx="5.7" ry="3.2" fill="#d7dfe4"/><ellipse cx="1225.9" cy="1619.2" rx="8.9" ry="4.7" fill="#fff" stroke="#a3b6c0" stroke-width="2.6"/>
<ellipse cx="1178.7" cy="1672.4" rx="14.2" ry="8" fill="#cfcbc7"/><ellipse cx="1178.7" cy="1672.1" rx="10.4" ry="5.9" fill="#b2aeaa"/><path d="M1168.7,1619.4 V1671.4 a10,5.6 0 0 0 20,0 V1619.4 z" fill="#fdfeff" fill-opacity="0.42" stroke="#aebfc8" stroke-opacity="0.8" stroke-width="1.4"/><path d="M1173,1645.9 V1669.9 a5.7,3.2 0 0 0 11.4,0 V1645.9 z" fill="#c6d1d8" fill-opacity="0.9"/><ellipse cx="1178.7" cy="1645.9" rx="5.7" ry="3.2" fill="#d7dfe4"/><ellipse cx="1178.7" cy="1619.4" rx="8.9" ry="4.7" fill="#fff" stroke="#a3b6c0" stroke-width="2.6"/>
<ellipse cx="1201.6" cy="1685.9" rx="14.2" ry="8" fill="#cfcbc7"/><ellipse cx="1201.6" cy="1685.6" rx="10.4" ry="5.9" fill="#b2aeaa"/><path d="M1191.6,1632.9 V1684.9 a10,5.6 0 0 0 20,0 V1632.9 z" fill="#fdfeff" fill-opacity="0.42" stroke="#aebfc8" stroke-opacity="0.8" stroke-width="1.4"/><path d="M1195.9,1659.4 V1683.4 a5.7,3.2 0 0 0 11.4,0 V1659.4 z" fill="#c6d1d8" fill-opacity="0.9"/><ellipse cx="1201.6" cy="1659.4" rx="5.7" ry="3.2" fill="#d7dfe4"/><ellipse cx="1201.6" cy="1632.9" rx="8.9" ry="4.7" fill="#fff" stroke="#a3b6c0" stroke-width="2.6"/>
<ellipse cx="1164" cy="1880.2" rx="5.9" ry="8.5" transform="rotate(-15 1164 1880.2)" fill="#3b3b3d"/><path d="M1150.1,1878.1 L1160.9,1872.3 L1167.1,1888.1 L1156.3,1893.9Z" fill="#3b3b3d"/><ellipse cx="1153.2" cy="1886" rx="5.9" ry="8.5" transform="rotate(-15 1153.2 1886)" fill="#29292b"/><ellipse cx="1153.4" cy="1886" rx="3.4" ry="5.1" transform="rotate(-15 1153.4 1886)" fill="#e6e6e6"/><ellipse cx="1153.7" cy="1886" rx="2" ry="3.4" transform="rotate(-15 1153.7 1886)" fill="#d3d3d3"/>
<ellipse cx="911.8" cy="1890.6" rx="5.9" ry="8.5" transform="rotate(-15 911.8 1890.6)" fill="#3b3b3d"/><path d="M897.9,1888.5 L908.7,1882.7 L914.9,1898.5 L904.1,1904.3Z" fill="#3b3b3d"/><ellipse cx="901" cy="1896.4" rx="5.9" ry="8.5" transform="rotate(-15 901 1896.4)" fill="#29292b"/><ellipse cx="901.2" cy="1896.4" rx="3.4" ry="5.1" transform="rotate(-15 901.2 1896.4)" fill="#e6e6e6"/><ellipse cx="901.5" cy="1896.4" rx="2" ry="3.4" transform="rotate(-15 901.5 1896.4)" fill="#d3d3d3"/>
<path d="M1023.8,1958.4 L891.7,1881.1 L891.7,1739.1 L1023.8,1816.4Z" fill="#97a4ae" />
<path d="M1023.8,1816.4 L891.7,1739.1 L891.7,1757.1 L1023.8,1834.4Z" fill="#5a7282" />
<path d="M1023.8,1958.4 L1163.4,1876 L1163.4,1734 L1023.8,1816.4Z" fill="#ced1db" />
<path d="M1023.8,1816.4 L1163.4,1734 L1163.4,1752 L1023.8,1834.4Z" fill="#9eaab8" />
<path d="M1023.8,1958.4 L891.7,1881.1 L891.7,1829.1 L1023.8,1906.4Z" fill="#5c7077" />
<path d="M1023.8,1958.4 L891.7,1881.1 L891.7,1864.1 L1023.8,1941.4Z" fill="#40555d" />
<path d="M1023.8,1958.4 L1163.4,1876 L1163.4,1819 L1023.8,1901.4Z" fill="#a3a9b3" />
<path d="M1023.8,1958.4 L1163.4,1876 L1163.4,1859 L1023.8,1941.4Z" fill="#8492a0" />
<path d="M1023.8,1958.4 L1014.8,1953.1 L1014.8,1811.1 L1023.8,1816.4Z" fill="#3f5666" fill-opacity="0.35"/>
<path d="M900.7,1886.4 L891.7,1881.1 L891.7,1739.1 L900.7,1744.4Z" fill="#3f5666" fill-opacity="0.3"/>
<path d="M1023.8,1958.4 L1032.8,1953.1 L1032.8,1811.1 L1023.8,1816.4Z" fill="#6f7f90" fill-opacity="0.4"/>
<path d="M1154.4,1881.3 L1163.4,1876 L1163.4,1734 L1154.4,1739.3Z" fill="#6f7f90" fill-opacity="0.45"/>
<path d="M896.9,1742.2C894,1740.5 894,1737.8 896.9,1736.1L1026.1,1659.8C1029,1658.1 1033.6,1658.1 1036.5,1659.8L1158.2,1731C1161.1,1732.7 1161.1,1735.4 1158.2,1737.1L1029,1813.4C1026.1,1815.1 1021.5,1815.1 1018.6,1813.4Z" fill="#ccd0d9"/><path d="M907.4,1741.1C905.5,1740 905.5,1738.2 907.4,1737.1L1027.9,1665.7C1029.8,1664.6 1032.8,1664.5 1034.7,1665.7L1147.7,1732C1149.6,1733.1 1149.6,1734.9 1147.7,1736.1L1027.2,1807.5C1025.3,1808.6 1022.3,1808.6 1020.4,1807.5Z" fill="#fff"/>
<ellipse cx="1029.8" cy="1961.2" rx="5.9" ry="8.5" transform="rotate(-15 1029.8 1961.2)" fill="#3b3b3d"/><path d="M1015.9,1959.1 L1026.7,1953.3 L1032.9,1969.1 L1022.1,1974.9Z" fill="#3b3b3d"/><ellipse cx="1019" cy="1967" rx="5.9" ry="8.5" transform="rotate(-15 1019 1967)" fill="#29292b"/><ellipse cx="1019.2" cy="1967" rx="3.4" ry="5.1" transform="rotate(-15 1019.2 1967)" fill="#e6e6e6"/><ellipse cx="1019.5" cy="1967" rx="2" ry="3.4" transform="rotate(-15 1019.5 1967)" fill="#d3d3d3"/>
<path d="M816,1832.6 L943,1761.2" fill="none" stroke="#56717f" stroke-width="6" stroke-linecap="round" stroke-linejoin="round"/>
<ellipse cx="1030" cy="1679.5" rx="14.2" ry="8" fill="#cfcbc7"/><ellipse cx="1030" cy="1679.2" rx="10.4" ry="5.9" fill="#b2aeaa"/><path d="M1020,1626.5 V1678.5 a10,5.6 0 0 0 20,0 V1626.5 z" fill="#fdfeff" fill-opacity="0.42" stroke="#aebfc8" stroke-opacity="0.8" stroke-width="1.4"/><path d="M1024.3,1653 V1677 a5.7,3.2 0 0 0 11.4,0 V1653 z" fill="#c6d1d8" fill-opacity="0.9"/><ellipse cx="1030" cy="1653" rx="5.7" ry="3.2" fill="#d7dfe4"/><ellipse cx="1030" cy="1626.5" rx="8.9" ry="4.7" fill="#fff" stroke="#a3b6c0" stroke-width="2.6"/>
<ellipse cx="1052.9" cy="1693" rx="14.2" ry="8" fill="#cfcbc7"/><ellipse cx="1052.9" cy="1692.7" rx="10.4" ry="5.9" fill="#b2aeaa"/><path d="M1042.9,1640 V1692 a10,5.6 0 0 0 20,0 V1640 z" fill="#fdfeff" fill-opacity="0.42" stroke="#aebfc8" stroke-opacity="0.8" stroke-width="1.4"/><path d="M1047.2,1666.5 V1690.5 a5.7,3.2 0 0 0 11.4,0 V1666.5 z" fill="#c6d1d8" fill-opacity="0.9"/><ellipse cx="1052.9" cy="1666.5" rx="5.7" ry="3.2" fill="#d7dfe4"/><ellipse cx="1052.9" cy="1640" rx="8.9" ry="4.7" fill="#fff" stroke="#a3b6c0" stroke-width="2.6"/>
<ellipse cx="1005.7" cy="1693.2" rx="14.2" ry="8" fill="#cfcbc7"/><ellipse cx="1005.7" cy="1692.9" rx="10.4" ry="5.9" fill="#b2aeaa"/><path d="M995.7,1640.2 V1692.2 a10,5.6 0 0 0 20,0 V1640.2 z" fill="#fdfeff" fill-opacity="0.42" stroke="#aebfc8" stroke-opacity="0.8" stroke-width="1.4"/><path d="M1000,1666.7 V1690.7 a5.7,3.2 0 0 0 11.4,0 V1666.7 z" fill="#c6d1d8" fill-opacity="0.9"/><ellipse cx="1005.7" cy="1666.7" rx="5.7" ry="3.2" fill="#d7dfe4"/><ellipse cx="1005.7" cy="1640.2" rx="8.9" ry="4.7" fill="#fff" stroke="#a3b6c0" stroke-width="2.6"/>
<ellipse cx="1075.8" cy="1706.5" rx="14.2" ry="8" fill="#cfcbc7"/><ellipse cx="1075.8" cy="1706.2" rx="10.4" ry="5.9" fill="#b2aeaa"/><path d="M1065.8,1653.5 V1705.5 a10,5.6 0 0 0 20,0 V1653.5 z" fill="#fdfeff" fill-opacity="0.42" stroke="#aebfc8" stroke-opacity="0.8" stroke-width="1.4"/><path d="M1070.1,1680 V1704 a5.7,3.2 0 0 0 11.4,0 V1680 z" fill="#c6d1d8" fill-opacity="0.9"/><ellipse cx="1075.8" cy="1680" rx="5.7" ry="3.2" fill="#d7dfe4"/><ellipse cx="1075.8" cy="1653.5" rx="8.9" ry="4.7" fill="#fff" stroke="#a3b6c0" stroke-width="2.6"/>
<ellipse cx="1028.6" cy="1706.7" rx="14.2" ry="8" fill="#cfcbc7"/><ellipse cx="1028.6" cy="1706.4" rx="10.4" ry="5.9" fill="#b2aeaa"/><path d="M1018.6,1653.7 V1705.7 a10,5.6 0 0 0 20,0 V1653.7 z" fill="#fdfeff" fill-opacity="0.42" stroke="#aebfc8" stroke-opacity="0.8" stroke-width="1.4"/><path d="M1022.9,1680.2 V1704.2 a5.7,3.2 0 0 0 11.4,0 V1680.2 z" fill="#c6d1d8" fill-opacity="0.9"/><ellipse cx="1028.6" cy="1680.2" rx="5.7" ry="3.2" fill="#d7dfe4"/><ellipse cx="1028.6" cy="1653.7" rx="8.9" ry="4.7" fill="#fff" stroke="#a3b6c0" stroke-width="2.6"/>
<ellipse cx="981.4" cy="1706.9" rx="14.2" ry="8" fill="#cfcbc7"/><ellipse cx="981.4" cy="1706.6" rx="10.4" ry="5.9" fill="#b2aeaa"/><path d="M971.4,1653.9 V1705.9 a10,5.6 0 0 0 20,0 V1653.9 z" fill="#fdfeff" fill-opacity="0.42" stroke="#aebfc8" stroke-opacity="0.8" stroke-width="1.4"/><path d="M975.7,1680.4 V1704.4 a5.7,3.2 0 0 0 11.4,0 V1680.4 z" fill="#c6d1d8" fill-opacity="0.9"/><ellipse cx="981.4" cy="1680.4" rx="5.7" ry="3.2" fill="#d7dfe4"/><ellipse cx="981.4" cy="1653.9" rx="8.9" ry="4.7" fill="#fff" stroke="#a3b6c0" stroke-width="2.6"/>
<ellipse cx="1098.7" cy="1720" rx="14.2" ry="8" fill="#cfcbc7"/><ellipse cx="1098.7" cy="1719.7" rx="10.4" ry="5.9" fill="#b2aeaa"/><path d="M1088.7,1667 V1719 a10,5.6 0 0 0 20,0 V1667 z" fill="#fdfeff" fill-opacity="0.42" stroke="#aebfc8" stroke-opacity="0.8" stroke-width="1.4"/><path d="M1093,1693.5 V1717.5 a5.7,3.2 0 0 0 11.4,0 V1693.5 z" fill="#c6d1d8" fill-opacity="0.9"/><ellipse cx="1098.7" cy="1693.5" rx="5.7" ry="3.2" fill="#d7dfe4"/><ellipse cx="1098.7" cy="1667" rx="8.9" ry="4.7" fill="#fff" stroke="#a3b6c0" stroke-width="2.6"/>
<ellipse cx="1051.5" cy="1720.2" rx="14.2" ry="8" fill="#cfcbc7"/><ellipse cx="1051.5" cy="1719.9" rx="10.4" ry="5.9" fill="#b2aeaa"/><path d="M1041.5,1667.2 V1719.2 a10,5.6 0 0 0 20,0 V1667.2 z" fill="#fdfeff" fill-opacity="0.42" stroke="#aebfc8" stroke-opacity="0.8" stroke-width="1.4"/><path d="M1045.8,1693.7 V1717.7 a5.7,3.2 0 0 0 11.4,0 V1693.7 z" fill="#c6d1d8" fill-opacity="0.9"/><ellipse cx="1051.5" cy="1693.7" rx="5.7" ry="3.2" fill="#d7dfe4"/><ellipse cx="1051.5" cy="1667.2" rx="8.9" ry="4.7" fill="#fff" stroke="#a3b6c0" stroke-width="2.6"/>
<ellipse cx="1004.3" cy="1720.4" rx="14.2" ry="8" fill="#cfcbc7"/><ellipse cx="1004.3" cy="1720.1" rx="10.4" ry="5.9" fill="#b2aeaa"/><path d="M994.3,1667.4 V1719.4 a10,5.6 0 0 0 20,0 V1667.4 z" fill="#fdfeff" fill-opacity="0.42" stroke="#aebfc8" stroke-opacity="0.8" stroke-width="1.4"/><path d="M998.6,1693.9 V1717.9 a5.7,3.2 0 0 0 11.4,0 V1693.9 z" fill="#c6d1d8" fill-opacity="0.9"/><ellipse cx="1004.3" cy="1693.9" rx="5.7" ry="3.2" fill="#d7dfe4"/><ellipse cx="1004.3" cy="1667.4" rx="8.9" ry="4.7" fill="#fff" stroke="#a3b6c0" stroke-width="2.6"/>
<ellipse cx="957.1" cy="1720.6" rx="14.2" ry="8" fill="#cfcbc7"/><ellipse cx="957.1" cy="1720.3" rx="10.4" ry="5.9" fill="#b2aeaa"/><path d="M947.1,1667.6 V1719.6 a10,5.6 0 0 0 20,0 V1667.6 z" fill="#fdfeff" fill-opacity="0.42" stroke="#aebfc8" stroke-opacity="0.8" stroke-width="1.4"/><path d="M951.4,1694.1 V1718.1 a5.7,3.2 0 0 0 11.4,0 V1694.1 z" fill="#c6d1d8" fill-opacity="0.9"/><ellipse cx="957.1" cy="1694.1" rx="5.7" ry="3.2" fill="#d7dfe4"/><ellipse cx="957.1" cy="1667.6" rx="8.9" ry="4.7" fill="#fff" stroke="#a3b6c0" stroke-width="2.6"/>
<ellipse cx="1121.6" cy="1733.5" rx="14.2" ry="8" fill="#cfcbc7"/><ellipse cx="1121.6" cy="1733.2" rx="10.4" ry="5.9" fill="#b2aeaa"/><path d="M1111.6,1680.5 V1732.5 a10,5.6 0 0 0 20,0 V1680.5 z" fill="#fdfeff" fill-opacity="0.42" stroke="#aebfc8" stroke-opacity="0.8" stroke-width="1.4"/><path d="M1115.9,1707 V1731 a5.7,3.2 0 0 0 11.4,0 V1707 z" fill="#c6d1d8" fill-opacity="0.9"/><ellipse cx="1121.6" cy="1707" rx="5.7" ry="3.2" fill="#d7dfe4"/><ellipse cx="1121.6" cy="1680.5" rx="8.9" ry="4.7" fill="#fff" stroke="#a3b6c0" stroke-width="2.6"/>
<ellipse cx="1074.4" cy="1733.7" rx="14.2" ry="8" fill="#cfcbc7"/><ellipse cx="1074.4" cy="1733.4" rx="10.4" ry="5.9" fill="#b2aeaa"/><path d="M1064.4,1680.7 V1732.7 a10,5.6 0 0 0 20,0 V1680.7 z" fill="#fdfeff" fill-opacity="0.42" stroke="#aebfc8" stroke-opacity="0.8" stroke-width="1.4"/><path d="M1068.7,1707.2 V1731.2 a5.7,3.2 0 0 0 11.4,0 V1707.2 z" fill="#c6d1d8" fill-opacity="0.9"/><ellipse cx="1074.4" cy="1707.2" rx="5.7" ry="3.2" fill="#d7dfe4"/><ellipse cx="1074.4" cy="1680.7" rx="8.9" ry="4.7" fill="#fff" stroke="#a3b6c0" stroke-width="2.6"/>
<ellipse cx="1027.2" cy="1733.9" rx="14.2" ry="8" fill="#cfcbc7"/><ellipse cx="1027.2" cy="1733.6" rx="10.4" ry="5.9" fill="#b2aeaa"/><path d="M1017.2,1680.9 V1732.9 a10,5.6 0 0 0 20,0 V1680.9 z" fill="#fdfeff" fill-opacity="0.42" stroke="#aebfc8" stroke-opacity="0.8" stroke-width="1.4"/><path d="M1021.5,1707.4 V1731.4 a5.7,3.2 0 0 0 11.4,0 V1707.4 z" fill="#c6d1d8" fill-opacity="0.9"/><ellipse cx="1027.2" cy="1707.4" rx="5.7" ry="3.2" fill="#d7dfe4"/><ellipse cx="1027.2" cy="1680.9" rx="8.9" ry="4.7" fill="#fff" stroke="#a3b6c0" stroke-width="2.6"/>
<ellipse cx="980" cy="1734.1" rx="14.2" ry="8" fill="#cfcbc7"/><ellipse cx="980" cy="1733.8" rx="10.4" ry="5.9" fill="#b2aeaa"/><path d="M970,1681.1 V1733.1 a10,5.6 0 0 0 20,0 V1681.1 z" fill="#fdfeff" fill-opacity="0.42" stroke="#aebfc8" stroke-opacity="0.8" stroke-width="1.4"/><path d="M974.3,1707.6 V1731.6 a5.7,3.2 0 0 0 11.4,0 V1707.6 z" fill="#c6d1d8" fill-opacity="0.9"/><ellipse cx="980" cy="1707.6" rx="5.7" ry="3.2" fill="#d7dfe4"/><ellipse cx="980" cy="1681.1" rx="8.9" ry="4.7" fill="#fff" stroke="#a3b6c0" stroke-width="2.6"/>
<ellipse cx="932.8" cy="1734.3" rx="14.2" ry="8" fill="#cfcbc7"/><ellipse cx="932.8" cy="1734" rx="10.4" ry="5.9" fill="#b2aeaa"/><path d="M922.8,1681.3 V1733.3 a10,5.6 0 0 0 20,0 V1681.3 z" fill="#fdfeff" fill-opacity="0.42" stroke="#aebfc8" stroke-opacity="0.8" stroke-width="1.4"/><path d="M927.1,1707.8 V1731.8 a5.7,3.2 0 0 0 11.4,0 V1707.8 z" fill="#c6d1d8" fill-opacity="0.9"/><ellipse cx="932.8" cy="1707.8" rx="5.7" ry="3.2" fill="#d7dfe4"/><ellipse cx="932.8" cy="1681.3" rx="8.9" ry="4.7" fill="#fff" stroke="#a3b6c0" stroke-width="2.6"/>
<ellipse cx="1097.3" cy="1747.2" rx="14.2" ry="8" fill="#cfcbc7"/><ellipse cx="1097.3" cy="1746.9" rx="10.4" ry="5.9" fill="#b2aeaa"/><path d="M1087.3,1694.2 V1746.2 a10,5.6 0 0 0 20,0 V1694.2 z" fill="#fdfeff" fill-opacity="0.42" stroke="#aebfc8" stroke-opacity="0.8" stroke-width="1.4"/><path d="M1091.6,1720.7 V1744.7 a5.7,3.2 0 0 0 11.4,0 V1720.7 z" fill="#c6d1d8" fill-opacity="0.9"/><ellipse cx="1097.3" cy="1720.7" rx="5.7" ry="3.2" fill="#d7dfe4"/><ellipse cx="1097.3" cy="1694.2" rx="8.9" ry="4.7" fill="#fff" stroke="#a3b6c0" stroke-width="2.6"/>
<ellipse cx="1050.1" cy="1747.4" rx="14.2" ry="8" fill="#cfcbc7"/><ellipse cx="1050.1" cy="1747.1" rx="10.4" ry="5.9" fill="#b2aeaa"/><path d="M1040.1,1694.4 V1746.4 a10,5.6 0 0 0 20,0 V1694.4 z" fill="#fdfeff" fill-opacity="0.42" stroke="#aebfc8" stroke-opacity="0.8" stroke-width="1.4"/><path d="M1044.4,1720.9 V1744.9 a5.7,3.2 0 0 0 11.4,0 V1720.9 z" fill="#c6d1d8" fill-opacity="0.9"/><ellipse cx="1050.1" cy="1720.9" rx="5.7" ry="3.2" fill="#d7dfe4"/><ellipse cx="1050.1" cy="1694.4" rx="8.9" ry="4.7" fill="#fff" stroke="#a3b6c0" stroke-width="2.6"/>
<ellipse cx="1002.9" cy="1747.6" rx="14.2" ry="8" fill="#cfcbc7"/><ellipse cx="1002.9" cy="1747.3" rx="10.4" ry="5.9" fill="#b2aeaa"/><path d="M992.9,1694.6 V1746.6 a10,5.6 0 0 0 20,0 V1694.6 z" fill="#fdfeff" fill-opacity="0.42" stroke="#aebfc8" stroke-opacity="0.8" stroke-width="1.4"/><path d="M997.2,1721.1 V1745.1 a5.7,3.2 0 0 0 11.4,0 V1721.1 z" fill="#c6d1d8" fill-opacity="0.9"/><ellipse cx="1002.9" cy="1721.1" rx="5.7" ry="3.2" fill="#d7dfe4"/><ellipse cx="1002.9" cy="1694.6" rx="8.9" ry="4.7" fill="#fff" stroke="#a3b6c0" stroke-width="2.6"/>
<ellipse cx="955.7" cy="1747.8" rx="14.2" ry="8" fill="#cfcbc7"/><ellipse cx="955.7" cy="1747.5" rx="10.4" ry="5.9" fill="#b2aeaa"/><path d="M945.7,1694.8 V1746.8 a10,5.6 0 0 0 20,0 V1694.8 z" fill="#fdfeff" fill-opacity="0.42" stroke="#aebfc8" stroke-opacity="0.8" stroke-width="1.4"/><path d="M950,1721.3 V1745.3 a5.7,3.2 0 0 0 11.4,0 V1721.3 z" fill="#c6d1d8" fill-opacity="0.9"/><ellipse cx="955.7" cy="1721.3" rx="5.7" ry="3.2" fill="#d7dfe4"/><ellipse cx="955.7" cy="1694.8" rx="8.9" ry="4.7" fill="#fff" stroke="#a3b6c0" stroke-width="2.6"/>
<ellipse cx="1073" cy="1760.9" rx="14.2" ry="8" fill="#cfcbc7"/><ellipse cx="1073" cy="1760.6" rx="10.4" ry="5.9" fill="#b2aeaa"/><path d="M1063,1707.9 V1759.9 a10,5.6 0 0 0 20,0 V1707.9 z" fill="#fdfeff" fill-opacity="0.42" stroke="#aebfc8" stroke-opacity="0.8" stroke-width="1.4"/><path d="M1067.3,1734.4 V1758.4 a5.7,3.2 0 0 0 11.4,0 V1734.4 z" fill="#c6d1d8" fill-opacity="0.9"/><ellipse cx="1073" cy="1734.4" rx="5.7" ry="3.2" fill="#d7dfe4"/><ellipse cx="1073" cy="1707.9" rx="8.9" ry="4.7" fill="#fff" stroke="#a3b6c0" stroke-width="2.6"/>
<ellipse cx="1025.8" cy="1761.1" rx="14.2" ry="8" fill="#cfcbc7"/><ellipse cx="1025.8" cy="1760.8" rx="10.4" ry="5.9" fill="#b2aeaa"/><path d="M1015.8,1708.1 V1760.1 a10,5.6 0 0 0 20,0 V1708.1 z" fill="#fdfeff" fill-opacity="0.42" stroke="#aebfc8" stroke-opacity="0.8" stroke-width="1.4"/><path d="M1020.1,1734.6 V1758.6 a5.7,3.2 0 0 0 11.4,0 V1734.6 z" fill="#c6d1d8" fill-opacity="0.9"/><ellipse cx="1025.8" cy="1734.6" rx="5.7" ry="3.2" fill="#d7dfe4"/><ellipse cx="1025.8" cy="1708.1" rx="8.9" ry="4.7" fill="#fff" stroke="#a3b6c0" stroke-width="2.6"/>
<ellipse cx="978.6" cy="1761.3" rx="14.2" ry="8" fill="#cfcbc7"/><ellipse cx="978.6" cy="1761" rx="10.4" ry="5.9" fill="#b2aeaa"/><path d="M968.6,1708.3 V1760.3 a10,5.6 0 0 0 20,0 V1708.3 z" fill="#fdfeff" fill-opacity="0.42" stroke="#aebfc8" stroke-opacity="0.8" stroke-width="1.4"/><path d="M972.9,1734.8 V1758.8 a5.7,3.2 0 0 0 11.4,0 V1734.8 z" fill="#c6d1d8" fill-opacity="0.9"/><ellipse cx="978.6" cy="1734.8" rx="5.7" ry="3.2" fill="#d7dfe4"/><ellipse cx="978.6" cy="1708.3" rx="8.9" ry="4.7" fill="#fff" stroke="#a3b6c0" stroke-width="2.6"/>
<ellipse cx="1048.7" cy="1774.6" rx="14.2" ry="8" fill="#cfcbc7"/><ellipse cx="1048.7" cy="1774.3" rx="10.4" ry="5.9" fill="#b2aeaa"/><path d="M1038.7,1721.6 V1773.6 a10,5.6 0 0 0 20,0 V1721.6 z" fill="#fdfeff" fill-opacity="0.42" stroke="#aebfc8" stroke-opacity="0.8" stroke-width="1.4"/><path d="M1043,1748.1 V1772.1 a5.7,3.2 0 0 0 11.4,0 V1748.1 z" fill="#c6d1d8" fill-opacity="0.9"/><ellipse cx="1048.7" cy="1748.1" rx="5.7" ry="3.2" fill="#d7dfe4"/><ellipse cx="1048.7" cy="1721.6" rx="8.9" ry="4.7" fill="#fff" stroke="#a3b6c0" stroke-width="2.6"/>
<ellipse cx="1001.5" cy="1774.8" rx="14.2" ry="8" fill="#cfcbc7"/><ellipse cx="1001.5" cy="1774.5" rx="10.4" ry="5.9" fill="#b2aeaa"/><path d="M991.5,1721.8 V1773.8 a10,5.6 0 0 0 20,0 V1721.8 z" fill="#fdfeff" fill-opacity="0.42" stroke="#aebfc8" stroke-opacity="0.8" stroke-width="1.4"/><path d="M995.8,1748.3 V1772.3 a5.7,3.2 0 0 0 11.4,0 V1748.3 z" fill="#c6d1d8" fill-opacity="0.9"/><ellipse cx="1001.5" cy="1748.3" rx="5.7" ry="3.2" fill="#d7dfe4"/><ellipse cx="1001.5" cy="1721.8" rx="8.9" ry="4.7" fill="#fff" stroke="#a3b6c0" stroke-width="2.6"/>
<ellipse cx="1024.4" cy="1788.3" rx="14.2" ry="8" fill="#cfcbc7"/><ellipse cx="1024.4" cy="1788" rx="10.4" ry="5.9" fill="#b2aeaa"/><path d="M1014.4,1735.3 V1787.3 a10,5.6 0 0 0 20,0 V1735.3 z" fill="#fdfeff" fill-opacity="0.42" stroke="#aebfc8" stroke-opacity="0.8" stroke-width="1.4"/><path d="M1018.7,1761.8 V1785.8 a5.7,3.2 0 0 0 11.4,0 V1761.8 z" fill="#c6d1d8" fill-opacity="0.9"/><ellipse cx="1024.4" cy="1761.8" rx="5.7" ry="3.2" fill="#d7dfe4"/><ellipse cx="1024.4" cy="1735.3" rx="8.9" ry="4.7" fill="#fff" stroke="#a3b6c0" stroke-width="2.6"/>
<path d="M1025.3,1593.9 V1630 a6.1,2.6 0 0 0 12.2,0 V1593.9 z" fill="url(#pin)"/>
<path d="M1048.2,1607.2 V1642.4 a6.1,2.6 0 0 0 12.2,0 V1607.2 z" fill="url(#pin)"/>
<path d="M1071.4,1620.5 V1655.7 a6.1,2.6 0 0 0 12.2,0 V1620.5 z" fill="url(#pin)"/>
<path d="M1094.2,1633.8 V1668.9 a6.1,2.6 0 0 0 12.2,0 V1633.8 z" fill="url(#pin)"/>
<path d="M1117,1647.1 V1682.2 a6.1,2.6 0 0 0 12.2,0 V1647.1 z" fill="url(#pin)"/>
<path d="M1119.3,1570.3C1119.3,1569.7 1119.7,1569 1120.1,1568.7L1136.2,1559.4C1138.6,1558 1140.5,1559.1 1140.5,1561.9L1140.5,1633.6C1140.5,1636.4 1138.6,1639.7 1136.2,1641.1L1120.1,1650.4C1119.7,1650.7 1119.3,1650.5 1119.3,1649.9Z" fill="#7a8a98"/>
<path d="M1119.3,1569.3 L1140.5,1556.9 L1140.5,1570.2 L1119.3,1582.5Z" fill="#4d6576" />
<path d="M1119.3,1630 L1140.5,1617.7 L1140.5,1638.6 L1119.3,1650.9Z" fill="#5a7282" fill-opacity="0.6"/>
<path d="M1130.3,1563.2 L1140.5,1556.9 L1140.5,1638.6 L1130.3,1644.8Z" fill="#62788a" fill-opacity="0.5"/>
<path d="M1014.4,1513.5C1014.4,1510.7 1016.4,1509.6 1018.8,1511L1118.4,1568.8C1118.9,1569 1119.3,1569.7 1119.3,1570.3L1119.3,1649.9C1119.3,1650.5 1118.9,1650.7 1118.4,1650.4L1018.8,1592.6C1016.4,1591.2 1014.4,1587.9 1014.4,1585.1Z" fill="#ced1db"/>
<path d="M1014.4,1512.3 L1119.3,1573 L1119.3,1582.5 L1014.4,1522.7Z" fill="#9eaab8" />
<path d="M1014.4,1578.7 L1119.3,1639.5 L1119.3,1650.9 L1014.4,1590.1Z" fill="#9eaab8" />
<path d="M1014.4,1510.4 L1022.8,1515.1 L1022.8,1594.9 L1014.4,1590.1Z" fill="#8d99a6" fill-opacity="0.55"/>
<path d="M1110.7,1564.5 L1119.3,1569.3 L1119.3,1650.9 L1110.7,1646.2Z" fill="#8d99a6" fill-opacity="0.45"/>
<path d="M1018.4,1511.4C1016,1510 1016,1507.8 1018.4,1506.4L1031,1499.2C1033.4,1497.8 1037.2,1497.8 1039.7,1499.2L1136.6,1555C1139,1556.4 1139,1558.6 1136.6,1560L1124,1567.5C1121.5,1568.9 1117.7,1568.9 1115.3,1567.5Z" fill="#c5c9d0"/>
<path d="M1026.9,1510C1025.5,1509.1 1025.5,1507.8 1026.9,1507L1033.1,1503.5C1034.6,1502.7 1036.9,1502.7 1038.3,1503.5L1127.7,1555.4C1129.1,1556.2 1129.2,1557.6 1127.7,1558.5L1122.2,1562C1120.8,1562.9 1118.5,1562.9 1117.1,1562.1Z" fill="#fff"/>
<rect x="666.7" y="1820.2" width="146.4" height="190.3" rx="19" fill="#fff" stroke="#c9cdd6" stroke-width="5.8"/>
<circle cx="688.8" cy="1842.8" r="10.8" fill="#fff" stroke="#c9cdd6" stroke-width="5.6"/>
<circle cx="722.8" cy="1842.8" r="10.8" fill="#fff" stroke="#c9cdd6" stroke-width="5.6"/>
<circle cx="757" cy="1842.8" r="10.8" fill="#fff" stroke="#c9cdd6" stroke-width="5.6"/>
<circle cx="791" cy="1842.8" r="10.8" fill="#fff" stroke="#c9cdd6" stroke-width="5.6"/>
<circle cx="688.8" cy="1878.9" r="10.8" fill="#fff" stroke="#c9cdd6" stroke-width="5.6"/>
<circle cx="722.8" cy="1878.9" r="10.8" fill="#fff" stroke="#c9cdd6" stroke-width="5.6"/>
<circle cx="722.8" cy="1878.9" r="5.7" fill="#56717f"/>
<circle cx="757" cy="1878.9" r="10.8" fill="#fff" stroke="#c9cdd6" stroke-width="5.6"/>
<circle cx="791" cy="1878.9" r="10.8" fill="#fff" stroke="#c9cdd6" stroke-width="5.6"/>
<circle cx="688.8" cy="1915.1" r="10.8" fill="#fff" stroke="#c9cdd6" stroke-width="5.6"/>
<circle cx="722.8" cy="1915.1" r="10.8" fill="#fff" stroke="#c9cdd6" stroke-width="5.6"/>
<circle cx="757" cy="1915.1" r="10.8" fill="#fff" stroke="#c9cdd6" stroke-width="5.6"/>
<circle cx="791" cy="1915.1" r="10.8" fill="#fff" stroke="#c9cdd6" stroke-width="5.6"/>
<circle cx="791" cy="1915.1" r="5.7" fill="#56717f"/>
<circle cx="688.8" cy="1951.2" r="10.8" fill="#fff" stroke="#c9cdd6" stroke-width="5.6"/>
<circle cx="688.8" cy="1951.2" r="5.7" fill="#56717f"/>
<circle cx="722.8" cy="1951.2" r="10.8" fill="#fff" stroke="#c9cdd6" stroke-width="5.6"/>
<circle cx="757" cy="1951.2" r="10.8" fill="#fff" stroke="#c9cdd6" stroke-width="5.6"/>
<circle cx="791" cy="1951.2" r="10.8" fill="#fff" stroke="#c9cdd6" stroke-width="5.6"/>
<circle cx="688.8" cy="1987.4" r="10.8" fill="#fff" stroke="#c9cdd6" stroke-width="5.6"/>
<circle cx="722.8" cy="1987.4" r="10.8" fill="#fff" stroke="#c9cdd6" stroke-width="5.6"/>
<circle cx="757" cy="1987.4" r="10.8" fill="#fff" stroke="#c9cdd6" stroke-width="5.6"/>
<circle cx="791" cy="1987.4" r="10.8" fill="#fff" stroke="#c9cdd6" stroke-width="5.6"/>
<path d="M1059,895.8 C1064.2,896.2 1079.3,897.2 1090,898.5 C1100.7,899.8 1111.3,901.9 1123,903.7 C1134.7,905.5 1148.9,907.8 1160,909.5 C1171.1,911.2 1184.6,913.2 1189.5,914 L1201,898.2 Q1202.5,897.2 1204,898.3 L1262,938.6 Q1263.5,939.9 1261.5,940.6 L1171,950.3 Q1168.6,950.3 1169.6,948.3 L1179.5,931.5 C1174.6,930.8 1159.4,928.5 1150,927 C1140.6,925.5 1133,923.9 1123,922.3 C1113,920.7 1100.7,918.6 1090,917.3 C1079.3,915.9 1064.2,914.7 1059,914.2 A9.2,9.2 0 0 1 1059,895.8Z" fill="#c91235"/>
<path d="M1603.5,1265.4 C1604.7,1271.2 1609.2,1289.2 1610.5,1300 C1611.8,1310.8 1612.2,1318 1611.4,1330 C1610.7,1342 1609.2,1357.2 1606,1372 C1602.8,1386.8 1598.5,1403.4 1592.5,1418.6 C1586.5,1433.8 1578.8,1449.3 1570,1463 C1561.2,1476.7 1551.7,1489.2 1540,1501 C1528.3,1512.8 1512.7,1523.4 1500,1533.5 C1487.3,1543.6 1475.5,1553.3 1464,1561.7 C1452.5,1570.1 1436.2,1580.3 1430.7,1584 L1453.3,1597.6 Q1456,1599.4 1452.6,1600 L1366,1613.3 Q1362.3,1613.6 1363.8,1610.4 L1386.7,1562.3 Q1388.2,1559.6 1390.8,1561.1 L1408.9,1571.7 C1414.9,1567.7 1434.2,1555.2 1445,1547.5 C1455.8,1539.8 1464,1533.1 1473.5,1525.6 C1483,1518.1 1492.7,1511.1 1501.8,1502.4 C1510.9,1493.7 1520.4,1483.1 1527.9,1473.5 C1535.5,1463.9 1541.4,1454.5 1547.1,1444.7 C1552.8,1434.9 1557.9,1425.3 1562.3,1414.5 C1566.7,1403.7 1570.5,1390.9 1573.2,1380.1 C1575.9,1369.3 1577.6,1359.5 1578.7,1349.9 C1579.8,1340.3 1580.2,1331.6 1580.1,1322.4 C1580,1313.2 1579.3,1304.5 1578,1295 C1576.7,1285.5 1573.1,1270.3 1572.1,1265.4 A15.7,9.8 0 0 1 1603.5,1265.4Z" fill="#4262a0"/>
<path d="M361.3,1180.4 C357.2,1188.6 343,1212.4 336.6,1229.8 C330.2,1247.2 325.5,1269.5 322.9,1284.8 C320.3,1300.1 320.5,1307.7 321.1,1321.4 C321.7,1335.1 323,1351.8 326.5,1367.1 C330,1382.3 335.2,1398.2 342.1,1412.9 C349,1427.6 359.1,1442.8 367.7,1455 C376.2,1467.2 389.1,1480.9 393.4,1486.1 Q408,1501 423.5,1483 Q424,1480 421.7,1477 C417.3,1470.6 403.6,1451.6 395.2,1438.5 C386.8,1425.4 377.8,1411.7 371.4,1398.3 C365,1384.9 360,1371.4 356.8,1358 C353.6,1344.6 352.5,1330.5 352.2,1317.7 C351.9,1304.9 352.3,1295.1 354.9,1281.1 C357.5,1267.1 361.9,1248.9 367.7,1233.5 C373.5,1218.1 386,1196.1 389.7,1188.6 L417,1195.5 Q419.8,1196 419.5,1193 L414.3,1143 Q413.8,1140.3 411,1141.3 L336,1169 Q333.5,1170.3 336.2,1171.5Z" fill="#f3960e"/>
<path d="M578.3,1643.9 Q700,1703 838.6,1717.3" fill="none" stroke="#f3960e" stroke-width="18.5" stroke-linecap="round"/>
<text x="273" y="361" font-size="51.5" fill="#8b807b" font-weight="bold" textLength="880" lengthAdjust="spacing" stroke="#8b807b" stroke-width="0.7">LA SELECTION ET L’OPTIMISATION</text>
<text x="273" y="419.5" font-size="51.5" fill="#8b807b" font-weight="bold" textLength="1147" lengthAdjust="spacing" stroke="#8b807b" stroke-width="0.7">D’UNE LEVURE PAR BIOLOGIE SYNTHÉTIQUE</text>
<circle cx="880" cy="604" r="18.5" fill="#d90a32"/>
<text x="880" y="613.2" font-size="26" font-weight="bold" fill="#fff" text-anchor="middle">1</text>
<text x="911.2" y="615" font-size="26" fill="#d90a32" font-weight="bold" textLength="226.5" lengthAdjust="spacing" stroke="#d90a32" stroke-width="0.3">ÉTUDE DE L’ADN</text>
<text x="911" y="653" font-size="26" fill="#524540" font-weight="normal" textLength="266.6" lengthAdjust="spacing" stroke="#524540" stroke-width="0.45">Identifier la meilleure</text>
<text x="911" y="679.5" font-size="26" fill="#524540" font-weight="normal" textLength="195" lengthAdjust="spacing" stroke="#524540" stroke-width="0.45">voie biologique</text>
<text x="911" y="706.1" font-size="26" fill="#524540" font-weight="normal" textLength="295" lengthAdjust="spacing" stroke="#524540" stroke-width="0.45">permettant de produire</text>
<text x="934.3" y="732.6" font-size="26" fill="#524540" font-weight="normal" textLength="222.7" lengthAdjust="spacing" stroke="#524540" stroke-width="0.45">la molécule cible.</text>
<circle cx="1271" cy="604" r="18.5" fill="#10428c"/>
<text x="1271" y="613.2" font-size="26" font-weight="bold" fill="#fff" text-anchor="middle">2</text>
<text x="1303.9" y="612.6" font-size="26" fill="#10428c" font-weight="bold" textLength="341" lengthAdjust="spacing" stroke="#10428c" stroke-width="0.3">BIOLOGIE MOLÉCULAIRE</text>
<text x="1303" y="650.4" font-size="26" fill="#524540" font-weight="normal" textLength="158.9" lengthAdjust="spacing" stroke="#524540" stroke-width="0.45">Construction</text>
<text x="1303" y="676.9" font-size="26" fill="#524540" font-weight="normal" textLength="193.3" lengthAdjust="spacing" stroke="#524540" stroke-width="0.45">d’une multitude</text>
<text x="1303" y="703.4" font-size="26" fill="#524540" font-weight="normal" textLength="260.7" lengthAdjust="spacing" stroke="#524540" stroke-width="0.45">de souches intégrant</text>
<text x="1303" y="729.9" font-size="26" fill="#524540" font-weight="normal" textLength="265.6" lengthAdjust="spacing" stroke="#524540" stroke-width="0.45">cette voie biologique.</text>
<circle cx="1270.4" cy="1944.4" r="18.5" fill="#f3960e"/>
<text x="1270.4" y="1953.6" font-size="26" font-weight="bold" fill="#fff" text-anchor="middle">3</text>
<text x="1303.6" y="1954.6" font-size="26" fill="#f3960e" font-weight="bold" textLength="138.4" lengthAdjust="spacing" stroke="#f3960e" stroke-width="0.3">CRIBLAGE</text>
<text x="1303" y="1992.1" font-size="26" fill="#524540" font-weight="normal" textLength="221.4" lengthAdjust="spacing" stroke="#524540" stroke-width="0.45">Test des souches</text>
<text x="1303" y="2018.9" font-size="26" fill="#524540" font-weight="normal" textLength="277.2" lengthAdjust="spacing" stroke="#524540" stroke-width="0.45">les plus performantes</text>
<text x="1303" y="2045.8" font-size="26" fill="#524540" font-weight="normal" textLength="172.7" lengthAdjust="spacing" stroke="#524540" stroke-width="0.45">pour produire</text>
<text x="1303" y="2072.6" font-size="26" fill="#524540" font-weight="normal" textLength="222.5" lengthAdjust="spacing" stroke="#524540" stroke-width="0.45">la molécule cible.</text>
<text x="332.5" y="1535.1" font-size="26" fill="#524540" font-weight="normal" textLength="183.5" lengthAdjust="spacing" stroke="#524540" stroke-width="0.45">Les meilleures</text>
<text x="332.5" y="1561.6" font-size="26" fill="#524540" font-weight="normal" textLength="170.5" lengthAdjust="spacing" stroke="#524540" stroke-width="0.45">souches sont</text>
<text x="332.5" y="1588.1" font-size="26" fill="#524540" font-weight="normal" textLength="279" lengthAdjust="spacing" stroke="#524540" stroke-width="0.45">à nouveau améliorées</text>
<text x="332.5" y="1614.6" font-size="26" fill="#524540" font-weight="normal" textLength="306.5" lengthAdjust="spacing" stroke="#524540" stroke-width="0.45">selon le même procédé.</text></svg></body></html>
